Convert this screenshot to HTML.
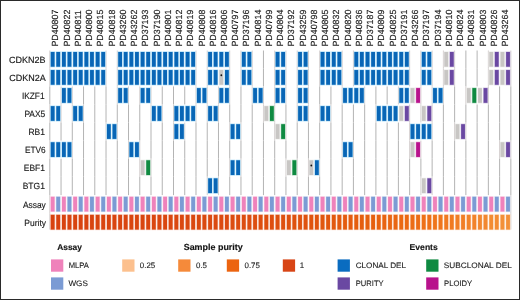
<!DOCTYPE html><html><head><meta charset="utf-8"><style>html,body{margin:0;padding:0;background:#fff;}svg{display:block;filter:blur(0.3px)}text{font-family:"Liberation Sans",sans-serif;text-rendering:geometricPrecision;stroke:#1a1a1a;stroke-width:0.15px;}</style></head><body>
<svg width="520" height="300" viewBox="0 0 520 300">
<rect x="0" y="0" width="520" height="300" fill="#fff"/>
<rect x="49.30" y="50.50" width="1" height="17.88" fill="#d4cfcf"/>
<rect x="49.30" y="68.38" width="1" height="18.05" fill="#d4cfcf"/>
<rect x="49.30" y="86.42" width="1" height="18.05" fill="#b4b4b4"/>
<rect x="49.30" y="104.48" width="1" height="18.05" fill="#d4cfcf"/>
<rect x="49.30" y="122.53" width="1" height="18.05" fill="#b4b4b4"/>
<rect x="49.30" y="140.57" width="1" height="18.05" fill="#d4cfcf"/>
<rect x="49.30" y="158.62" width="1" height="18.05" fill="#b4b4b4"/>
<rect x="49.30" y="176.68" width="1" height="18.45" fill="#b4b4b4"/>
<rect x="49.30" y="195.12" width="1" height="18.05" fill="#d4cfcf"/>
<rect x="49.30" y="213.18" width="1" height="16.38" fill="#d4cfcf"/>
<rect x="60.54" y="86.42" width="1" height="18.05" fill="#d4cfcf"/>
<rect x="60.54" y="104.48" width="1" height="18.05" fill="#d4cfcf"/>
<rect x="60.54" y="122.53" width="1" height="18.05" fill="#b4b4b4"/>
<rect x="60.54" y="158.62" width="1" height="18.05" fill="#b4b4b4"/>
<rect x="60.54" y="176.68" width="1" height="18.45" fill="#b4b4b4"/>
<rect x="71.79" y="86.42" width="1" height="18.05" fill="#d4cfcf"/>
<rect x="71.79" y="104.48" width="1" height="18.05" fill="#d4cfcf"/>
<rect x="71.79" y="122.53" width="1" height="18.05" fill="#b4b4b4"/>
<rect x="71.79" y="140.57" width="1" height="18.05" fill="#d4cfcf"/>
<rect x="71.79" y="158.62" width="1" height="18.05" fill="#b4b4b4"/>
<rect x="71.79" y="176.68" width="1" height="18.45" fill="#b4b4b4"/>
<rect x="83.03" y="86.42" width="1" height="18.05" fill="#b4b4b4"/>
<rect x="83.03" y="104.48" width="1" height="18.05" fill="#d4cfcf"/>
<rect x="83.03" y="122.53" width="1" height="18.05" fill="#b4b4b4"/>
<rect x="83.03" y="140.57" width="1" height="18.05" fill="#b4b4b4"/>
<rect x="83.03" y="158.62" width="1" height="18.05" fill="#b4b4b4"/>
<rect x="83.03" y="176.68" width="1" height="18.45" fill="#b4b4b4"/>
<rect x="94.28" y="86.42" width="1" height="18.05" fill="#b4b4b4"/>
<rect x="94.28" y="104.48" width="1" height="18.05" fill="#b4b4b4"/>
<rect x="94.28" y="122.53" width="1" height="18.05" fill="#b4b4b4"/>
<rect x="94.28" y="140.57" width="1" height="18.05" fill="#b4b4b4"/>
<rect x="94.28" y="158.62" width="1" height="18.05" fill="#b4b4b4"/>
<rect x="94.28" y="176.68" width="1" height="18.45" fill="#b4b4b4"/>
<rect x="105.52" y="50.50" width="1" height="17.88" fill="#d4cfcf"/>
<rect x="105.52" y="68.38" width="1" height="18.05" fill="#d4cfcf"/>
<rect x="105.52" y="86.42" width="1" height="18.05" fill="#b4b4b4"/>
<rect x="105.52" y="104.48" width="1" height="18.05" fill="#b4b4b4"/>
<rect x="105.52" y="122.53" width="1" height="18.05" fill="#d4cfcf"/>
<rect x="105.52" y="140.57" width="1" height="18.05" fill="#b4b4b4"/>
<rect x="105.52" y="158.62" width="1" height="18.05" fill="#b4b4b4"/>
<rect x="105.52" y="176.68" width="1" height="18.45" fill="#b4b4b4"/>
<rect x="116.77" y="50.50" width="1" height="17.88" fill="#d4cfcf"/>
<rect x="116.77" y="68.38" width="1" height="18.05" fill="#d4cfcf"/>
<rect x="116.77" y="86.42" width="1" height="18.05" fill="#d4cfcf"/>
<rect x="116.77" y="104.48" width="1" height="18.05" fill="#b4b4b4"/>
<rect x="116.77" y="122.53" width="1" height="18.05" fill="#d4cfcf"/>
<rect x="116.77" y="140.57" width="1" height="18.05" fill="#b4b4b4"/>
<rect x="116.77" y="158.62" width="1" height="18.05" fill="#b4b4b4"/>
<rect x="116.77" y="176.68" width="1" height="18.45" fill="#b4b4b4"/>
<rect x="128.01" y="86.42" width="1" height="18.05" fill="#d4cfcf"/>
<rect x="128.01" y="104.48" width="1" height="18.05" fill="#b4b4b4"/>
<rect x="128.01" y="122.53" width="1" height="18.05" fill="#b4b4b4"/>
<rect x="128.01" y="140.57" width="1" height="18.05" fill="#d4cfcf"/>
<rect x="128.01" y="158.62" width="1" height="18.05" fill="#b4b4b4"/>
<rect x="128.01" y="176.68" width="1" height="18.45" fill="#b4b4b4"/>
<rect x="139.26" y="86.42" width="1" height="18.05" fill="#d4cfcf"/>
<rect x="139.26" y="104.48" width="1" height="18.05" fill="#b4b4b4"/>
<rect x="139.26" y="122.53" width="1" height="18.05" fill="#b4b4b4"/>
<rect x="139.26" y="140.57" width="1" height="18.05" fill="#d4cfcf"/>
<rect x="139.26" y="158.62" width="1" height="18.05" fill="#d4cfcf"/>
<rect x="139.26" y="176.68" width="1" height="18.45" fill="#b4b4b4"/>
<rect x="150.50" y="86.42" width="1" height="18.05" fill="#d4cfcf"/>
<rect x="150.50" y="104.48" width="1" height="18.05" fill="#d4cfcf"/>
<rect x="150.50" y="122.53" width="1" height="18.05" fill="#b4b4b4"/>
<rect x="150.50" y="140.57" width="1" height="18.05" fill="#b4b4b4"/>
<rect x="150.50" y="158.62" width="1" height="18.05" fill="#d4cfcf"/>
<rect x="150.50" y="176.68" width="1" height="18.45" fill="#b4b4b4"/>
<rect x="161.75" y="86.42" width="1" height="18.05" fill="#b4b4b4"/>
<rect x="161.75" y="104.48" width="1" height="18.05" fill="#d4cfcf"/>
<rect x="161.75" y="122.53" width="1" height="18.05" fill="#b4b4b4"/>
<rect x="161.75" y="140.57" width="1" height="18.05" fill="#b4b4b4"/>
<rect x="161.75" y="158.62" width="1" height="18.05" fill="#b4b4b4"/>
<rect x="161.75" y="176.68" width="1" height="18.45" fill="#b4b4b4"/>
<rect x="173.00" y="86.42" width="1" height="18.05" fill="#b4b4b4"/>
<rect x="173.00" y="104.48" width="1" height="18.05" fill="#d4cfcf"/>
<rect x="173.00" y="122.53" width="1" height="18.05" fill="#d4cfcf"/>
<rect x="173.00" y="140.57" width="1" height="18.05" fill="#b4b4b4"/>
<rect x="173.00" y="158.62" width="1" height="18.05" fill="#b4b4b4"/>
<rect x="173.00" y="176.68" width="1" height="18.45" fill="#b4b4b4"/>
<rect x="184.24" y="86.42" width="1" height="18.05" fill="#b4b4b4"/>
<rect x="184.24" y="122.53" width="1" height="18.05" fill="#d4cfcf"/>
<rect x="184.24" y="140.57" width="1" height="18.05" fill="#b4b4b4"/>
<rect x="184.24" y="158.62" width="1" height="18.05" fill="#b4b4b4"/>
<rect x="184.24" y="176.68" width="1" height="18.45" fill="#b4b4b4"/>
<rect x="195.49" y="50.50" width="1" height="17.88" fill="#d4cfcf"/>
<rect x="195.49" y="68.38" width="1" height="18.05" fill="#d4cfcf"/>
<rect x="195.49" y="86.42" width="1" height="18.05" fill="#d4cfcf"/>
<rect x="195.49" y="104.48" width="1" height="18.05" fill="#d4cfcf"/>
<rect x="195.49" y="122.53" width="1" height="18.05" fill="#b4b4b4"/>
<rect x="195.49" y="140.57" width="1" height="18.05" fill="#b4b4b4"/>
<rect x="195.49" y="158.62" width="1" height="18.05" fill="#b4b4b4"/>
<rect x="195.49" y="176.68" width="1" height="18.45" fill="#b4b4b4"/>
<rect x="206.73" y="50.50" width="1" height="17.88" fill="#d4cfcf"/>
<rect x="206.73" y="68.38" width="1" height="18.05" fill="#d4cfcf"/>
<rect x="206.73" y="86.42" width="1" height="18.05" fill="#d4cfcf"/>
<rect x="206.73" y="104.48" width="1" height="18.05" fill="#d4cfcf"/>
<rect x="206.73" y="122.53" width="1" height="18.05" fill="#b4b4b4"/>
<rect x="206.73" y="140.57" width="1" height="18.05" fill="#b4b4b4"/>
<rect x="206.73" y="158.62" width="1" height="18.05" fill="#b4b4b4"/>
<rect x="206.73" y="176.68" width="1" height="18.45" fill="#d4cfcf"/>
<rect x="217.97" y="86.42" width="1" height="18.05" fill="#d4cfcf"/>
<rect x="217.97" y="104.48" width="1" height="18.05" fill="#d4cfcf"/>
<rect x="217.97" y="122.53" width="1" height="18.05" fill="#b4b4b4"/>
<rect x="217.97" y="140.57" width="1" height="18.05" fill="#b4b4b4"/>
<rect x="217.97" y="158.62" width="1" height="18.05" fill="#b4b4b4"/>
<rect x="217.97" y="176.68" width="1" height="18.45" fill="#d4cfcf"/>
<rect x="229.22" y="50.50" width="1" height="17.88" fill="#d4cfcf"/>
<rect x="229.22" y="68.38" width="1" height="18.05" fill="#d4cfcf"/>
<rect x="229.22" y="86.42" width="1" height="18.05" fill="#d4cfcf"/>
<rect x="229.22" y="104.48" width="1" height="18.05" fill="#b4b4b4"/>
<rect x="229.22" y="122.53" width="1" height="18.05" fill="#d4cfcf"/>
<rect x="229.22" y="140.57" width="1" height="18.05" fill="#b4b4b4"/>
<rect x="229.22" y="158.62" width="1" height="18.05" fill="#d4cfcf"/>
<rect x="229.22" y="176.68" width="1" height="18.45" fill="#b4b4b4"/>
<rect x="240.46" y="50.50" width="1" height="17.88" fill="#d4cfcf"/>
<rect x="240.46" y="68.38" width="1" height="18.05" fill="#d4cfcf"/>
<rect x="240.46" y="86.42" width="1" height="18.05" fill="#b4b4b4"/>
<rect x="240.46" y="104.48" width="1" height="18.05" fill="#b4b4b4"/>
<rect x="240.46" y="122.53" width="1" height="18.05" fill="#d4cfcf"/>
<rect x="240.46" y="140.57" width="1" height="18.05" fill="#b4b4b4"/>
<rect x="240.46" y="158.62" width="1" height="18.05" fill="#d4cfcf"/>
<rect x="240.46" y="176.68" width="1" height="18.45" fill="#b4b4b4"/>
<rect x="251.71" y="50.50" width="1" height="17.88" fill="#d4cfcf"/>
<rect x="251.71" y="68.38" width="1" height="18.05" fill="#d4cfcf"/>
<rect x="251.71" y="86.42" width="1" height="18.05" fill="#d4cfcf"/>
<rect x="251.71" y="104.48" width="1" height="18.05" fill="#b4b4b4"/>
<rect x="251.71" y="122.53" width="1" height="18.05" fill="#b4b4b4"/>
<rect x="251.71" y="140.57" width="1" height="18.05" fill="#b4b4b4"/>
<rect x="251.71" y="158.62" width="1" height="18.05" fill="#b4b4b4"/>
<rect x="251.71" y="176.68" width="1" height="18.45" fill="#b4b4b4"/>
<rect x="262.95" y="50.50" width="1" height="17.88" fill="#b4b4b4"/>
<rect x="262.95" y="68.38" width="1" height="18.05" fill="#b4b4b4"/>
<rect x="262.95" y="86.42" width="1" height="18.05" fill="#d4cfcf"/>
<rect x="262.95" y="104.48" width="1" height="18.05" fill="#d4cfcf"/>
<rect x="262.95" y="122.53" width="1" height="18.05" fill="#b4b4b4"/>
<rect x="262.95" y="140.57" width="1" height="18.05" fill="#b4b4b4"/>
<rect x="262.95" y="158.62" width="1" height="18.05" fill="#b4b4b4"/>
<rect x="262.95" y="176.68" width="1" height="18.45" fill="#b4b4b4"/>
<rect x="274.20" y="50.50" width="1" height="17.88" fill="#d4cfcf"/>
<rect x="274.20" y="68.38" width="1" height="18.05" fill="#d4cfcf"/>
<rect x="274.20" y="86.42" width="1" height="18.05" fill="#d4cfcf"/>
<rect x="274.20" y="104.48" width="1" height="18.05" fill="#d4cfcf"/>
<rect x="274.20" y="122.53" width="1" height="18.05" fill="#d4cfcf"/>
<rect x="274.20" y="140.57" width="1" height="18.05" fill="#b4b4b4"/>
<rect x="274.20" y="158.62" width="1" height="18.05" fill="#b4b4b4"/>
<rect x="274.20" y="176.68" width="1" height="18.45" fill="#b4b4b4"/>
<rect x="285.44" y="50.50" width="1" height="17.88" fill="#d4cfcf"/>
<rect x="285.44" y="68.38" width="1" height="18.05" fill="#d4cfcf"/>
<rect x="285.44" y="86.42" width="1" height="18.05" fill="#d4cfcf"/>
<rect x="285.44" y="104.48" width="1" height="18.05" fill="#b4b4b4"/>
<rect x="285.44" y="122.53" width="1" height="18.05" fill="#d4cfcf"/>
<rect x="285.44" y="140.57" width="1" height="18.05" fill="#b4b4b4"/>
<rect x="285.44" y="158.62" width="1" height="18.05" fill="#d4cfcf"/>
<rect x="285.44" y="176.68" width="1" height="18.45" fill="#b4b4b4"/>
<rect x="296.69" y="50.50" width="1" height="17.88" fill="#d4cfcf"/>
<rect x="296.69" y="68.38" width="1" height="18.05" fill="#d4cfcf"/>
<rect x="296.69" y="86.42" width="1" height="18.05" fill="#d4cfcf"/>
<rect x="296.69" y="104.48" width="1" height="18.05" fill="#d4cfcf"/>
<rect x="296.69" y="122.53" width="1" height="18.05" fill="#b4b4b4"/>
<rect x="296.69" y="140.57" width="1" height="18.05" fill="#b4b4b4"/>
<rect x="296.69" y="158.62" width="1" height="18.05" fill="#d4cfcf"/>
<rect x="296.69" y="176.68" width="1" height="18.45" fill="#b4b4b4"/>
<rect x="307.94" y="50.50" width="1" height="17.88" fill="#d4cfcf"/>
<rect x="307.94" y="68.38" width="1" height="18.05" fill="#d4cfcf"/>
<rect x="307.94" y="86.42" width="1" height="18.05" fill="#d4cfcf"/>
<rect x="307.94" y="104.48" width="1" height="18.05" fill="#d4cfcf"/>
<rect x="307.94" y="122.53" width="1" height="18.05" fill="#b4b4b4"/>
<rect x="307.94" y="140.57" width="1" height="18.05" fill="#b4b4b4"/>
<rect x="307.94" y="158.62" width="1" height="18.05" fill="#d4cfcf"/>
<rect x="307.94" y="176.68" width="1" height="18.45" fill="#b4b4b4"/>
<rect x="319.18" y="50.50" width="1" height="17.88" fill="#d4cfcf"/>
<rect x="319.18" y="68.38" width="1" height="18.05" fill="#d4cfcf"/>
<rect x="319.18" y="86.42" width="1" height="18.05" fill="#b4b4b4"/>
<rect x="319.18" y="104.48" width="1" height="18.05" fill="#d4cfcf"/>
<rect x="319.18" y="122.53" width="1" height="18.05" fill="#b4b4b4"/>
<rect x="319.18" y="140.57" width="1" height="18.05" fill="#b4b4b4"/>
<rect x="319.18" y="158.62" width="1" height="18.05" fill="#d4cfcf"/>
<rect x="319.18" y="176.68" width="1" height="18.45" fill="#b4b4b4"/>
<rect x="330.43" y="86.42" width="1" height="18.05" fill="#b4b4b4"/>
<rect x="330.43" y="104.48" width="1" height="18.05" fill="#d4cfcf"/>
<rect x="330.43" y="122.53" width="1" height="18.05" fill="#b4b4b4"/>
<rect x="330.43" y="140.57" width="1" height="18.05" fill="#b4b4b4"/>
<rect x="330.43" y="158.62" width="1" height="18.05" fill="#b4b4b4"/>
<rect x="330.43" y="176.68" width="1" height="18.45" fill="#b4b4b4"/>
<rect x="341.67" y="50.50" width="1" height="17.88" fill="#d4cfcf"/>
<rect x="341.67" y="68.38" width="1" height="18.05" fill="#d4cfcf"/>
<rect x="341.67" y="86.42" width="1" height="18.05" fill="#d4cfcf"/>
<rect x="341.67" y="104.48" width="1" height="18.05" fill="#b4b4b4"/>
<rect x="341.67" y="122.53" width="1" height="18.05" fill="#b4b4b4"/>
<rect x="341.67" y="140.57" width="1" height="18.05" fill="#d4cfcf"/>
<rect x="341.67" y="158.62" width="1" height="18.05" fill="#b4b4b4"/>
<rect x="341.67" y="176.68" width="1" height="18.45" fill="#b4b4b4"/>
<rect x="352.91" y="50.50" width="1" height="17.88" fill="#d4cfcf"/>
<rect x="352.91" y="68.38" width="1" height="18.05" fill="#d4cfcf"/>
<rect x="352.91" y="104.48" width="1" height="18.05" fill="#b4b4b4"/>
<rect x="352.91" y="122.53" width="1" height="18.05" fill="#b4b4b4"/>
<rect x="352.91" y="140.57" width="1" height="18.05" fill="#d4cfcf"/>
<rect x="352.91" y="158.62" width="1" height="18.05" fill="#b4b4b4"/>
<rect x="352.91" y="176.68" width="1" height="18.45" fill="#b4b4b4"/>
<rect x="364.16" y="86.42" width="1" height="18.05" fill="#d4cfcf"/>
<rect x="364.16" y="104.48" width="1" height="18.05" fill="#b4b4b4"/>
<rect x="364.16" y="122.53" width="1" height="18.05" fill="#b4b4b4"/>
<rect x="364.16" y="140.57" width="1" height="18.05" fill="#b4b4b4"/>
<rect x="364.16" y="158.62" width="1" height="18.05" fill="#b4b4b4"/>
<rect x="364.16" y="176.68" width="1" height="18.45" fill="#b4b4b4"/>
<rect x="375.40" y="86.42" width="1" height="18.05" fill="#b4b4b4"/>
<rect x="375.40" y="104.48" width="1" height="18.05" fill="#d4cfcf"/>
<rect x="375.40" y="122.53" width="1" height="18.05" fill="#b4b4b4"/>
<rect x="375.40" y="140.57" width="1" height="18.05" fill="#b4b4b4"/>
<rect x="375.40" y="158.62" width="1" height="18.05" fill="#b4b4b4"/>
<rect x="375.40" y="176.68" width="1" height="18.45" fill="#b4b4b4"/>
<rect x="386.65" y="86.42" width="1" height="18.05" fill="#b4b4b4"/>
<rect x="386.65" y="122.53" width="1" height="18.05" fill="#b4b4b4"/>
<rect x="386.65" y="140.57" width="1" height="18.05" fill="#b4b4b4"/>
<rect x="386.65" y="158.62" width="1" height="18.05" fill="#b4b4b4"/>
<rect x="386.65" y="176.68" width="1" height="18.45" fill="#b4b4b4"/>
<rect x="397.89" y="86.42" width="1" height="18.05" fill="#d4cfcf"/>
<rect x="397.89" y="122.53" width="1" height="18.05" fill="#b4b4b4"/>
<rect x="397.89" y="140.57" width="1" height="18.05" fill="#b4b4b4"/>
<rect x="397.89" y="158.62" width="1" height="18.05" fill="#b4b4b4"/>
<rect x="397.89" y="176.68" width="1" height="18.45" fill="#b4b4b4"/>
<rect x="409.14" y="50.50" width="1" height="17.88" fill="#d4cfcf"/>
<rect x="409.14" y="68.38" width="1" height="18.05" fill="#d4cfcf"/>
<rect x="409.14" y="104.48" width="1" height="18.05" fill="#d4cfcf"/>
<rect x="409.14" y="122.53" width="1" height="18.05" fill="#d4cfcf"/>
<rect x="409.14" y="140.57" width="1" height="18.05" fill="#d4cfcf"/>
<rect x="409.14" y="158.62" width="1" height="18.05" fill="#b4b4b4"/>
<rect x="409.14" y="176.68" width="1" height="18.45" fill="#b4b4b4"/>
<rect x="420.38" y="50.50" width="1" height="17.88" fill="#d4cfcf"/>
<rect x="420.38" y="68.38" width="1" height="18.05" fill="#d4cfcf"/>
<rect x="420.38" y="86.42" width="1" height="18.05" fill="#d4cfcf"/>
<rect x="420.38" y="104.48" width="1" height="18.05" fill="#d4cfcf"/>
<rect x="420.38" y="140.57" width="1" height="18.05" fill="#d4cfcf"/>
<rect x="420.38" y="158.62" width="1" height="18.05" fill="#b4b4b4"/>
<rect x="420.38" y="176.68" width="1" height="18.45" fill="#d4cfcf"/>
<rect x="431.63" y="50.50" width="1" height="17.88" fill="#d4cfcf"/>
<rect x="431.63" y="68.38" width="1" height="18.05" fill="#d4cfcf"/>
<rect x="431.63" y="86.42" width="1" height="18.05" fill="#d4cfcf"/>
<rect x="431.63" y="104.48" width="1" height="18.05" fill="#d4cfcf"/>
<rect x="431.63" y="122.53" width="1" height="18.05" fill="#d4cfcf"/>
<rect x="431.63" y="140.57" width="1" height="18.05" fill="#b4b4b4"/>
<rect x="431.63" y="158.62" width="1" height="18.05" fill="#b4b4b4"/>
<rect x="431.63" y="176.68" width="1" height="18.45" fill="#d4cfcf"/>
<rect x="442.88" y="50.50" width="1" height="17.88" fill="#d4cfcf"/>
<rect x="442.88" y="68.38" width="1" height="18.05" fill="#d4cfcf"/>
<rect x="442.88" y="86.42" width="1" height="18.05" fill="#d4cfcf"/>
<rect x="442.88" y="104.48" width="1" height="18.05" fill="#b4b4b4"/>
<rect x="442.88" y="122.53" width="1" height="18.05" fill="#b4b4b4"/>
<rect x="442.88" y="140.57" width="1" height="18.05" fill="#b4b4b4"/>
<rect x="442.88" y="158.62" width="1" height="18.05" fill="#b4b4b4"/>
<rect x="442.88" y="176.68" width="1" height="18.45" fill="#b4b4b4"/>
<rect x="454.12" y="50.50" width="1" height="17.88" fill="#d4cfcf"/>
<rect x="454.12" y="68.38" width="1" height="18.05" fill="#d4cfcf"/>
<rect x="454.12" y="86.42" width="1" height="18.05" fill="#b4b4b4"/>
<rect x="454.12" y="104.48" width="1" height="18.05" fill="#b4b4b4"/>
<rect x="454.12" y="122.53" width="1" height="18.05" fill="#d4cfcf"/>
<rect x="454.12" y="140.57" width="1" height="18.05" fill="#b4b4b4"/>
<rect x="454.12" y="158.62" width="1" height="18.05" fill="#b4b4b4"/>
<rect x="454.12" y="176.68" width="1" height="18.45" fill="#b4b4b4"/>
<rect x="465.37" y="50.50" width="1" height="17.88" fill="#b4b4b4"/>
<rect x="465.37" y="68.38" width="1" height="18.05" fill="#b4b4b4"/>
<rect x="465.37" y="86.42" width="1" height="18.05" fill="#d4cfcf"/>
<rect x="465.37" y="104.48" width="1" height="18.05" fill="#b4b4b4"/>
<rect x="465.37" y="122.53" width="1" height="18.05" fill="#d4cfcf"/>
<rect x="465.37" y="140.57" width="1" height="18.05" fill="#b4b4b4"/>
<rect x="465.37" y="158.62" width="1" height="18.05" fill="#b4b4b4"/>
<rect x="465.37" y="176.68" width="1" height="18.45" fill="#b4b4b4"/>
<rect x="476.61" y="50.50" width="1" height="17.88" fill="#b4b4b4"/>
<rect x="476.61" y="68.38" width="1" height="18.05" fill="#b4b4b4"/>
<rect x="476.61" y="104.48" width="1" height="18.05" fill="#b4b4b4"/>
<rect x="476.61" y="122.53" width="1" height="18.05" fill="#b4b4b4"/>
<rect x="476.61" y="140.57" width="1" height="18.05" fill="#b4b4b4"/>
<rect x="476.61" y="158.62" width="1" height="18.05" fill="#b4b4b4"/>
<rect x="476.61" y="176.68" width="1" height="18.45" fill="#b4b4b4"/>
<rect x="487.85" y="50.50" width="1" height="17.88" fill="#d4cfcf"/>
<rect x="487.85" y="68.38" width="1" height="18.05" fill="#d4cfcf"/>
<rect x="487.85" y="86.42" width="1" height="18.05" fill="#d4cfcf"/>
<rect x="487.85" y="104.48" width="1" height="18.05" fill="#b4b4b4"/>
<rect x="487.85" y="122.53" width="1" height="18.05" fill="#b4b4b4"/>
<rect x="487.85" y="140.57" width="1" height="18.05" fill="#b4b4b4"/>
<rect x="487.85" y="158.62" width="1" height="18.05" fill="#b4b4b4"/>
<rect x="487.85" y="176.68" width="1" height="18.45" fill="#b4b4b4"/>
<rect x="499.10" y="86.42" width="1" height="18.05" fill="#b4b4b4"/>
<rect x="499.10" y="104.48" width="1" height="18.05" fill="#b4b4b4"/>
<rect x="499.10" y="122.53" width="1" height="18.05" fill="#b4b4b4"/>
<rect x="499.10" y="140.57" width="1" height="18.05" fill="#d4cfcf"/>
<rect x="499.10" y="158.62" width="1" height="18.05" fill="#b4b4b4"/>
<rect x="499.10" y="176.68" width="1" height="18.45" fill="#b4b4b4"/>
<rect x="510.34" y="50.50" width="1" height="17.88" fill="#d4cfcf"/>
<rect x="510.34" y="68.38" width="1" height="18.05" fill="#d4cfcf"/>
<rect x="510.34" y="86.42" width="1" height="18.05" fill="#b4b4b4"/>
<rect x="510.34" y="104.48" width="1" height="18.05" fill="#b4b4b4"/>
<rect x="510.34" y="122.53" width="1" height="18.05" fill="#b4b4b4"/>
<rect x="510.34" y="140.57" width="1" height="18.05" fill="#d4cfcf"/>
<rect x="510.34" y="158.62" width="1" height="18.05" fill="#b4b4b4"/>
<rect x="510.34" y="176.68" width="1" height="18.45" fill="#b4b4b4"/>
<rect x="510.34" y="195.12" width="1" height="18.05" fill="#d4cfcf"/>
<rect x="510.34" y="213.18" width="1" height="16.38" fill="#d4cfcf"/>
<rect x="50.20" y="51.40" width="4.90" height="15.90" fill="#a8dbf6"/>
<rect x="50.75" y="52.00" width="3.8" height="14.7" fill="#0966b6"/>
<rect x="55.77" y="51.40" width="4.90" height="15.90" fill="#a8dbf6"/>
<rect x="56.32" y="52.00" width="3.8" height="14.7" fill="#0966b6"/>
<rect x="61.45" y="51.40" width="4.90" height="15.90" fill="#a8dbf6"/>
<rect x="61.99" y="52.00" width="3.8" height="14.7" fill="#0966b6"/>
<rect x="67.01" y="51.40" width="4.90" height="15.90" fill="#a8dbf6"/>
<rect x="67.56" y="52.00" width="3.8" height="14.7" fill="#0966b6"/>
<rect x="72.69" y="51.40" width="4.90" height="15.90" fill="#a8dbf6"/>
<rect x="73.24" y="52.00" width="3.8" height="14.7" fill="#0966b6"/>
<rect x="78.26" y="51.40" width="4.90" height="15.90" fill="#a8dbf6"/>
<rect x="78.81" y="52.00" width="3.8" height="14.7" fill="#0966b6"/>
<rect x="83.93" y="51.40" width="4.90" height="15.90" fill="#a8dbf6"/>
<rect x="84.48" y="52.00" width="3.8" height="14.7" fill="#0966b6"/>
<rect x="89.50" y="51.40" width="4.90" height="15.90" fill="#a8dbf6"/>
<rect x="90.05" y="52.00" width="3.8" height="14.7" fill="#0966b6"/>
<rect x="95.18" y="51.40" width="4.90" height="15.90" fill="#a8dbf6"/>
<rect x="95.73" y="52.00" width="3.8" height="14.7" fill="#0966b6"/>
<rect x="100.75" y="51.40" width="4.90" height="15.90" fill="#a8dbf6"/>
<rect x="101.30" y="52.00" width="3.8" height="14.7" fill="#0966b6"/>
<rect x="117.67" y="51.40" width="4.90" height="15.90" fill="#a8dbf6"/>
<rect x="118.22" y="52.00" width="3.8" height="14.7" fill="#0966b6"/>
<rect x="123.24" y="51.40" width="4.90" height="15.90" fill="#a8dbf6"/>
<rect x="123.79" y="52.00" width="3.8" height="14.7" fill="#0966b6"/>
<rect x="128.91" y="51.40" width="4.90" height="15.90" fill="#a8dbf6"/>
<rect x="129.46" y="52.00" width="3.8" height="14.7" fill="#0966b6"/>
<rect x="134.48" y="51.40" width="4.90" height="15.90" fill="#a8dbf6"/>
<rect x="135.03" y="52.00" width="3.8" height="14.7" fill="#0966b6"/>
<rect x="140.16" y="51.40" width="4.90" height="15.90" fill="#a8dbf6"/>
<rect x="140.71" y="52.00" width="3.8" height="14.7" fill="#0966b6"/>
<rect x="145.73" y="51.40" width="4.90" height="15.90" fill="#a8dbf6"/>
<rect x="146.28" y="52.00" width="3.8" height="14.7" fill="#0966b6"/>
<rect x="151.40" y="51.40" width="4.90" height="15.90" fill="#a8dbf6"/>
<rect x="151.95" y="52.00" width="3.8" height="14.7" fill="#0966b6"/>
<rect x="156.97" y="51.40" width="4.90" height="15.90" fill="#a8dbf6"/>
<rect x="157.52" y="52.00" width="3.8" height="14.7" fill="#0966b6"/>
<rect x="162.65" y="51.40" width="4.90" height="15.90" fill="#a8dbf6"/>
<rect x="163.20" y="52.00" width="3.8" height="14.7" fill="#0966b6"/>
<rect x="168.22" y="51.40" width="4.90" height="15.90" fill="#a8dbf6"/>
<rect x="168.77" y="52.00" width="3.8" height="14.7" fill="#0966b6"/>
<rect x="173.89" y="51.40" width="4.90" height="15.90" fill="#a8dbf6"/>
<rect x="174.44" y="52.00" width="3.8" height="14.7" fill="#0966b6"/>
<rect x="179.46" y="51.40" width="4.90" height="15.90" fill="#a8dbf6"/>
<rect x="180.01" y="52.00" width="3.8" height="14.7" fill="#0966b6"/>
<rect x="185.14" y="51.40" width="4.90" height="15.90" fill="#a8dbf6"/>
<rect x="185.69" y="52.00" width="3.8" height="14.7" fill="#0966b6"/>
<rect x="190.71" y="51.40" width="4.90" height="15.90" fill="#a8dbf6"/>
<rect x="191.26" y="52.00" width="3.8" height="14.7" fill="#0966b6"/>
<rect x="207.63" y="51.40" width="4.90" height="15.90" fill="#a8dbf6"/>
<rect x="208.18" y="52.00" width="3.8" height="14.7" fill="#0966b6"/>
<rect x="213.20" y="51.40" width="4.90" height="15.90" fill="#a8dbf6"/>
<rect x="213.75" y="52.00" width="3.8" height="14.7" fill="#0966b6"/>
<rect x="218.87" y="51.40" width="4.90" height="15.90" fill="#a8dbf6"/>
<rect x="219.42" y="52.00" width="3.8" height="14.7" fill="#0966b6"/>
<rect x="224.44" y="51.40" width="4.90" height="15.90" fill="#a8dbf6"/>
<rect x="224.99" y="52.00" width="3.8" height="14.7" fill="#0966b6"/>
<rect x="241.36" y="51.40" width="4.90" height="15.90" fill="#a8dbf6"/>
<rect x="241.91" y="52.00" width="3.8" height="14.7" fill="#0966b6"/>
<rect x="246.93" y="51.40" width="4.90" height="15.90" fill="#a8dbf6"/>
<rect x="247.48" y="52.00" width="3.8" height="14.7" fill="#0966b6"/>
<rect x="275.10" y="51.40" width="4.90" height="15.90" fill="#a8dbf6"/>
<rect x="275.65" y="52.00" width="3.8" height="14.7" fill="#0966b6"/>
<rect x="280.67" y="51.40" width="4.90" height="15.90" fill="#a8dbf6"/>
<rect x="281.22" y="52.00" width="3.8" height="14.7" fill="#0966b6"/>
<rect x="297.59" y="51.40" width="4.90" height="15.90" fill="#a8dbf6"/>
<rect x="298.14" y="52.00" width="3.8" height="14.7" fill="#0966b6"/>
<rect x="303.16" y="51.40" width="4.90" height="15.90" fill="#a8dbf6"/>
<rect x="303.71" y="52.00" width="3.8" height="14.7" fill="#0966b6"/>
<rect x="320.08" y="51.40" width="4.90" height="15.90" fill="#a8dbf6"/>
<rect x="320.63" y="52.00" width="3.8" height="14.7" fill="#0966b6"/>
<rect x="325.65" y="51.40" width="4.90" height="15.90" fill="#a8dbf6"/>
<rect x="326.20" y="52.00" width="3.8" height="14.7" fill="#0966b6"/>
<rect x="331.33" y="51.40" width="4.90" height="15.90" fill="#a8dbf6"/>
<rect x="331.88" y="52.00" width="3.8" height="14.7" fill="#0966b6"/>
<rect x="336.90" y="51.40" width="4.90" height="15.90" fill="#a8dbf6"/>
<rect x="337.45" y="52.00" width="3.8" height="14.7" fill="#0966b6"/>
<rect x="353.81" y="51.40" width="4.90" height="15.90" fill="#a8dbf6"/>
<rect x="354.37" y="52.00" width="3.8" height="14.7" fill="#0966b6"/>
<rect x="359.38" y="51.40" width="4.90" height="15.90" fill="#a8dbf6"/>
<rect x="359.94" y="52.00" width="3.8" height="14.7" fill="#0966b6"/>
<rect x="365.06" y="51.40" width="4.90" height="15.90" fill="#a8dbf6"/>
<rect x="365.61" y="52.00" width="3.8" height="14.7" fill="#0966b6"/>
<rect x="370.63" y="51.40" width="4.90" height="15.90" fill="#a8dbf6"/>
<rect x="371.18" y="52.00" width="3.8" height="14.7" fill="#0966b6"/>
<rect x="376.31" y="51.40" width="4.90" height="15.90" fill="#a8dbf6"/>
<rect x="376.86" y="52.00" width="3.8" height="14.7" fill="#0966b6"/>
<rect x="381.88" y="51.40" width="4.90" height="15.90" fill="#a8dbf6"/>
<rect x="382.43" y="52.00" width="3.8" height="14.7" fill="#0966b6"/>
<rect x="387.55" y="51.40" width="4.90" height="15.90" fill="#a8dbf6"/>
<rect x="388.10" y="52.00" width="3.8" height="14.7" fill="#0966b6"/>
<rect x="393.12" y="51.40" width="4.90" height="15.90" fill="#a8dbf6"/>
<rect x="393.67" y="52.00" width="3.8" height="14.7" fill="#0966b6"/>
<rect x="398.80" y="51.40" width="4.90" height="15.90" fill="#a8dbf6"/>
<rect x="399.35" y="52.00" width="3.8" height="14.7" fill="#0966b6"/>
<rect x="404.37" y="51.40" width="4.90" height="15.90" fill="#a8dbf6"/>
<rect x="404.92" y="52.00" width="3.8" height="14.7" fill="#0966b6"/>
<rect x="421.29" y="51.40" width="4.90" height="15.90" fill="#a8dbf6"/>
<rect x="421.84" y="52.00" width="3.8" height="14.7" fill="#0966b6"/>
<rect x="426.86" y="51.40" width="4.90" height="15.90" fill="#a8dbf6"/>
<rect x="427.41" y="52.00" width="3.8" height="14.7" fill="#0966b6"/>
<rect x="443.78" y="51.40" width="4.90" height="15.90" fill="#ededec"/>
<rect x="444.33" y="52.00" width="3.8" height="14.7" fill="#c8c6c4"/>
<rect x="449.35" y="51.40" width="4.90" height="15.90" fill="#cfc4e1"/>
<rect x="449.90" y="52.00" width="3.8" height="14.7" fill="#6a48a2"/>
<rect x="488.75" y="51.40" width="4.90" height="15.90" fill="#ededec"/>
<rect x="489.31" y="52.00" width="3.8" height="14.7" fill="#c8c6c4"/>
<rect x="494.32" y="51.40" width="4.90" height="15.90" fill="#cfc4e1"/>
<rect x="494.88" y="52.00" width="3.8" height="14.7" fill="#6a48a2"/>
<rect x="500.00" y="51.40" width="4.90" height="15.90" fill="#ededec"/>
<rect x="500.55" y="52.00" width="3.8" height="14.7" fill="#c8c6c4"/>
<rect x="505.57" y="51.40" width="4.90" height="15.90" fill="#cfc4e1"/>
<rect x="506.12" y="52.00" width="3.8" height="14.7" fill="#6a48a2"/>
<rect x="50.20" y="69.45" width="4.90" height="15.90" fill="#a8dbf6"/>
<rect x="50.75" y="70.05" width="3.8" height="14.7" fill="#0966b6"/>
<rect x="55.77" y="69.45" width="4.90" height="15.90" fill="#a8dbf6"/>
<rect x="56.32" y="70.05" width="3.8" height="14.7" fill="#0966b6"/>
<rect x="61.45" y="69.45" width="4.90" height="15.90" fill="#a8dbf6"/>
<rect x="61.99" y="70.05" width="3.8" height="14.7" fill="#0966b6"/>
<rect x="67.01" y="69.45" width="4.90" height="15.90" fill="#a8dbf6"/>
<rect x="67.56" y="70.05" width="3.8" height="14.7" fill="#0966b6"/>
<rect x="72.69" y="69.45" width="4.90" height="15.90" fill="#a8dbf6"/>
<rect x="73.24" y="70.05" width="3.8" height="14.7" fill="#0966b6"/>
<rect x="78.26" y="69.45" width="4.90" height="15.90" fill="#a8dbf6"/>
<rect x="78.81" y="70.05" width="3.8" height="14.7" fill="#0966b6"/>
<rect x="83.93" y="69.45" width="4.90" height="15.90" fill="#a8dbf6"/>
<rect x="84.48" y="70.05" width="3.8" height="14.7" fill="#0966b6"/>
<rect x="89.50" y="69.45" width="4.90" height="15.90" fill="#a8dbf6"/>
<rect x="90.05" y="70.05" width="3.8" height="14.7" fill="#0966b6"/>
<rect x="95.18" y="69.45" width="4.90" height="15.90" fill="#a8dbf6"/>
<rect x="95.73" y="70.05" width="3.8" height="14.7" fill="#0966b6"/>
<rect x="100.75" y="69.45" width="4.90" height="15.90" fill="#a8dbf6"/>
<rect x="101.30" y="70.05" width="3.8" height="14.7" fill="#0966b6"/>
<rect x="117.67" y="69.45" width="4.90" height="15.90" fill="#a8dbf6"/>
<rect x="118.22" y="70.05" width="3.8" height="14.7" fill="#0966b6"/>
<rect x="123.24" y="69.45" width="4.90" height="15.90" fill="#a8dbf6"/>
<rect x="123.79" y="70.05" width="3.8" height="14.7" fill="#0966b6"/>
<rect x="128.91" y="69.45" width="4.90" height="15.90" fill="#a8dbf6"/>
<rect x="129.46" y="70.05" width="3.8" height="14.7" fill="#0966b6"/>
<rect x="134.48" y="69.45" width="4.90" height="15.90" fill="#a8dbf6"/>
<rect x="135.03" y="70.05" width="3.8" height="14.7" fill="#0966b6"/>
<rect x="140.16" y="69.45" width="4.90" height="15.90" fill="#a8dbf6"/>
<rect x="140.71" y="70.05" width="3.8" height="14.7" fill="#0966b6"/>
<rect x="145.73" y="69.45" width="4.90" height="15.90" fill="#a8dbf6"/>
<rect x="146.28" y="70.05" width="3.8" height="14.7" fill="#0966b6"/>
<rect x="151.40" y="69.45" width="4.90" height="15.90" fill="#a8dbf6"/>
<rect x="151.95" y="70.05" width="3.8" height="14.7" fill="#0966b6"/>
<rect x="156.97" y="69.45" width="4.90" height="15.90" fill="#a8dbf6"/>
<rect x="157.52" y="70.05" width="3.8" height="14.7" fill="#0966b6"/>
<rect x="162.65" y="69.45" width="4.90" height="15.90" fill="#a8dbf6"/>
<rect x="163.20" y="70.05" width="3.8" height="14.7" fill="#0966b6"/>
<rect x="168.22" y="69.45" width="4.90" height="15.90" fill="#a8dbf6"/>
<rect x="168.77" y="70.05" width="3.8" height="14.7" fill="#0966b6"/>
<rect x="173.89" y="69.45" width="4.90" height="15.90" fill="#a8dbf6"/>
<rect x="174.44" y="70.05" width="3.8" height="14.7" fill="#0966b6"/>
<rect x="179.46" y="69.45" width="4.90" height="15.90" fill="#a8dbf6"/>
<rect x="180.01" y="70.05" width="3.8" height="14.7" fill="#0966b6"/>
<rect x="185.14" y="69.45" width="4.90" height="15.90" fill="#a8dbf6"/>
<rect x="185.69" y="70.05" width="3.8" height="14.7" fill="#0966b6"/>
<rect x="190.71" y="69.45" width="4.90" height="15.90" fill="#a8dbf6"/>
<rect x="191.26" y="70.05" width="3.8" height="14.7" fill="#0966b6"/>
<rect x="207.63" y="69.45" width="4.90" height="15.90" fill="#a8dbf6"/>
<rect x="208.18" y="70.05" width="3.8" height="14.7" fill="#0966b6"/>
<rect x="213.20" y="69.45" width="4.90" height="15.90" fill="#a8dbf6"/>
<rect x="213.75" y="70.05" width="3.8" height="14.7" fill="#0966b6"/>
<rect x="241.36" y="69.45" width="4.90" height="15.90" fill="#a8dbf6"/>
<rect x="241.91" y="70.05" width="3.8" height="14.7" fill="#0966b6"/>
<rect x="246.93" y="69.45" width="4.90" height="15.90" fill="#a8dbf6"/>
<rect x="247.48" y="70.05" width="3.8" height="14.7" fill="#0966b6"/>
<rect x="275.10" y="69.45" width="4.90" height="15.90" fill="#a8dbf6"/>
<rect x="275.65" y="70.05" width="3.8" height="14.7" fill="#0966b6"/>
<rect x="280.67" y="69.45" width="4.90" height="15.90" fill="#a8dbf6"/>
<rect x="281.22" y="70.05" width="3.8" height="14.7" fill="#0966b6"/>
<rect x="297.59" y="69.45" width="4.90" height="15.90" fill="#a8dbf6"/>
<rect x="298.14" y="70.05" width="3.8" height="14.7" fill="#0966b6"/>
<rect x="303.16" y="69.45" width="4.90" height="15.90" fill="#a8dbf6"/>
<rect x="303.71" y="70.05" width="3.8" height="14.7" fill="#0966b6"/>
<rect x="320.08" y="69.45" width="4.90" height="15.90" fill="#a8dbf6"/>
<rect x="320.63" y="70.05" width="3.8" height="14.7" fill="#0966b6"/>
<rect x="325.65" y="69.45" width="4.90" height="15.90" fill="#a8dbf6"/>
<rect x="326.20" y="70.05" width="3.8" height="14.7" fill="#0966b6"/>
<rect x="331.33" y="69.45" width="4.90" height="15.90" fill="#a8dbf6"/>
<rect x="331.88" y="70.05" width="3.8" height="14.7" fill="#0966b6"/>
<rect x="336.90" y="69.45" width="4.90" height="15.90" fill="#a8dbf6"/>
<rect x="337.45" y="70.05" width="3.8" height="14.7" fill="#0966b6"/>
<rect x="353.81" y="69.45" width="4.90" height="15.90" fill="#a8dbf6"/>
<rect x="354.37" y="70.05" width="3.8" height="14.7" fill="#0966b6"/>
<rect x="359.38" y="69.45" width="4.90" height="15.90" fill="#a8dbf6"/>
<rect x="359.94" y="70.05" width="3.8" height="14.7" fill="#0966b6"/>
<rect x="365.06" y="69.45" width="4.90" height="15.90" fill="#a8dbf6"/>
<rect x="365.61" y="70.05" width="3.8" height="14.7" fill="#0966b6"/>
<rect x="370.63" y="69.45" width="4.90" height="15.90" fill="#a8dbf6"/>
<rect x="371.18" y="70.05" width="3.8" height="14.7" fill="#0966b6"/>
<rect x="376.31" y="69.45" width="4.90" height="15.90" fill="#a8dbf6"/>
<rect x="376.86" y="70.05" width="3.8" height="14.7" fill="#0966b6"/>
<rect x="381.88" y="69.45" width="4.90" height="15.90" fill="#a8dbf6"/>
<rect x="382.43" y="70.05" width="3.8" height="14.7" fill="#0966b6"/>
<rect x="387.55" y="69.45" width="4.90" height="15.90" fill="#a8dbf6"/>
<rect x="388.10" y="70.05" width="3.8" height="14.7" fill="#0966b6"/>
<rect x="393.12" y="69.45" width="4.90" height="15.90" fill="#a8dbf6"/>
<rect x="393.67" y="70.05" width="3.8" height="14.7" fill="#0966b6"/>
<rect x="398.80" y="69.45" width="4.90" height="15.90" fill="#a8dbf6"/>
<rect x="399.35" y="70.05" width="3.8" height="14.7" fill="#0966b6"/>
<rect x="404.37" y="69.45" width="4.90" height="15.90" fill="#a8dbf6"/>
<rect x="404.92" y="70.05" width="3.8" height="14.7" fill="#0966b6"/>
<rect x="421.29" y="69.45" width="4.90" height="15.90" fill="#a8dbf6"/>
<rect x="421.84" y="70.05" width="3.8" height="14.7" fill="#0966b6"/>
<rect x="426.86" y="69.45" width="4.90" height="15.90" fill="#a8dbf6"/>
<rect x="427.41" y="70.05" width="3.8" height="14.7" fill="#0966b6"/>
<rect x="218.87" y="69.45" width="4.90" height="15.90" fill="#ededec"/>
<rect x="219.42" y="70.05" width="3.8" height="14.7" fill="#c8c6c4"/>
<rect x="224.44" y="69.45" width="4.90" height="15.90" fill="#a8dbf6"/>
<rect x="224.99" y="70.05" width="3.8" height="14.7" fill="#0966b6"/>
<circle cx="221.32" cy="75.25" r="0.9" fill="#111"/>
<rect x="443.78" y="69.45" width="4.90" height="15.90" fill="#ededec"/>
<rect x="444.33" y="70.05" width="3.8" height="14.7" fill="#c8c6c4"/>
<rect x="449.35" y="69.45" width="4.90" height="15.90" fill="#cfc4e1"/>
<rect x="449.90" y="70.05" width="3.8" height="14.7" fill="#6a48a2"/>
<rect x="488.75" y="69.45" width="4.90" height="15.90" fill="#ededec"/>
<rect x="489.31" y="70.05" width="3.8" height="14.7" fill="#c8c6c4"/>
<rect x="494.32" y="69.45" width="4.90" height="15.90" fill="#cfc4e1"/>
<rect x="494.88" y="70.05" width="3.8" height="14.7" fill="#6a48a2"/>
<rect x="500.00" y="69.45" width="4.90" height="15.90" fill="#ededec"/>
<rect x="500.55" y="70.05" width="3.8" height="14.7" fill="#c8c6c4"/>
<rect x="505.57" y="69.45" width="4.90" height="15.90" fill="#cfc4e1"/>
<rect x="506.12" y="70.05" width="3.8" height="14.7" fill="#6a48a2"/>
<rect x="61.45" y="87.50" width="4.90" height="15.90" fill="#a8dbf6"/>
<rect x="61.99" y="88.10" width="3.8" height="14.7" fill="#0966b6"/>
<rect x="67.01" y="87.50" width="4.90" height="15.90" fill="#a8dbf6"/>
<rect x="67.56" y="88.10" width="3.8" height="14.7" fill="#0966b6"/>
<rect x="117.67" y="87.50" width="4.90" height="15.90" fill="#a8dbf6"/>
<rect x="118.22" y="88.10" width="3.8" height="14.7" fill="#0966b6"/>
<rect x="123.24" y="87.50" width="4.90" height="15.90" fill="#a8dbf6"/>
<rect x="123.79" y="88.10" width="3.8" height="14.7" fill="#0966b6"/>
<rect x="140.16" y="87.50" width="4.90" height="15.90" fill="#a8dbf6"/>
<rect x="140.71" y="88.10" width="3.8" height="14.7" fill="#0966b6"/>
<rect x="145.73" y="87.50" width="4.90" height="15.90" fill="#a8dbf6"/>
<rect x="146.28" y="88.10" width="3.8" height="14.7" fill="#0966b6"/>
<rect x="196.38" y="87.50" width="4.90" height="15.90" fill="#a8dbf6"/>
<rect x="196.94" y="88.10" width="3.8" height="14.7" fill="#0966b6"/>
<rect x="201.95" y="87.50" width="4.90" height="15.90" fill="#a8dbf6"/>
<rect x="202.50" y="88.10" width="3.8" height="14.7" fill="#0966b6"/>
<rect x="218.87" y="87.50" width="4.90" height="15.90" fill="#a8dbf6"/>
<rect x="219.42" y="88.10" width="3.8" height="14.7" fill="#0966b6"/>
<rect x="224.44" y="87.50" width="4.90" height="15.90" fill="#a8dbf6"/>
<rect x="224.99" y="88.10" width="3.8" height="14.7" fill="#0966b6"/>
<rect x="252.61" y="87.50" width="4.90" height="15.90" fill="#a8dbf6"/>
<rect x="253.16" y="88.10" width="3.8" height="14.7" fill="#0966b6"/>
<rect x="258.18" y="87.50" width="4.90" height="15.90" fill="#a8dbf6"/>
<rect x="258.73" y="88.10" width="3.8" height="14.7" fill="#0966b6"/>
<rect x="275.10" y="87.50" width="4.90" height="15.90" fill="#a8dbf6"/>
<rect x="275.65" y="88.10" width="3.8" height="14.7" fill="#0966b6"/>
<rect x="280.67" y="87.50" width="4.90" height="15.90" fill="#a8dbf6"/>
<rect x="281.22" y="88.10" width="3.8" height="14.7" fill="#0966b6"/>
<rect x="297.59" y="87.50" width="4.90" height="15.90" fill="#a8dbf6"/>
<rect x="298.14" y="88.10" width="3.8" height="14.7" fill="#0966b6"/>
<rect x="303.16" y="87.50" width="4.90" height="15.90" fill="#a8dbf6"/>
<rect x="303.71" y="88.10" width="3.8" height="14.7" fill="#0966b6"/>
<rect x="342.57" y="87.50" width="4.90" height="15.90" fill="#a8dbf6"/>
<rect x="343.12" y="88.10" width="3.8" height="14.7" fill="#0966b6"/>
<rect x="348.14" y="87.50" width="4.90" height="15.90" fill="#a8dbf6"/>
<rect x="348.69" y="88.10" width="3.8" height="14.7" fill="#0966b6"/>
<rect x="353.81" y="87.50" width="4.90" height="15.90" fill="#a8dbf6"/>
<rect x="354.37" y="88.10" width="3.8" height="14.7" fill="#0966b6"/>
<rect x="359.38" y="87.50" width="4.90" height="15.90" fill="#a8dbf6"/>
<rect x="359.94" y="88.10" width="3.8" height="14.7" fill="#0966b6"/>
<rect x="398.80" y="87.50" width="4.90" height="15.90" fill="#a8dbf6"/>
<rect x="399.35" y="88.10" width="3.8" height="14.7" fill="#0966b6"/>
<rect x="404.37" y="87.50" width="4.90" height="15.90" fill="#a8dbf6"/>
<rect x="404.92" y="88.10" width="3.8" height="14.7" fill="#0966b6"/>
<rect x="432.53" y="87.50" width="4.90" height="15.90" fill="#a8dbf6"/>
<rect x="433.08" y="88.10" width="3.8" height="14.7" fill="#0966b6"/>
<rect x="438.10" y="87.50" width="4.90" height="15.90" fill="#a8dbf6"/>
<rect x="438.65" y="88.10" width="3.8" height="14.7" fill="#0966b6"/>
<rect x="410.04" y="87.50" width="4.90" height="15.90" fill="#ededec"/>
<rect x="410.59" y="88.10" width="3.8" height="14.7" fill="#c8c6c4"/>
<rect x="415.61" y="87.50" width="4.90" height="15.90" fill="#e8b3da"/>
<rect x="416.16" y="88.10" width="3.8" height="14.7" fill="#b8128c"/>
<rect x="466.27" y="87.50" width="4.90" height="15.90" fill="#ededec"/>
<rect x="466.82" y="88.10" width="3.8" height="14.7" fill="#c8c6c4"/>
<rect x="471.84" y="87.50" width="4.90" height="15.90" fill="#b2dac2"/>
<rect x="472.39" y="88.10" width="3.8" height="14.7" fill="#0f8a41"/>
<rect x="477.51" y="87.50" width="4.90" height="15.90" fill="#ededec"/>
<rect x="478.06" y="88.10" width="3.8" height="14.7" fill="#c8c6c4"/>
<rect x="483.08" y="87.50" width="4.90" height="15.90" fill="#cfc4e1"/>
<rect x="483.63" y="88.10" width="3.8" height="14.7" fill="#6a48a2"/>
<rect x="50.20" y="105.55" width="4.90" height="15.90" fill="#a8dbf6"/>
<rect x="50.75" y="106.15" width="3.8" height="14.7" fill="#0966b6"/>
<rect x="55.77" y="105.55" width="4.90" height="15.90" fill="#a8dbf6"/>
<rect x="56.32" y="106.15" width="3.8" height="14.7" fill="#0966b6"/>
<rect x="72.69" y="105.55" width="4.90" height="15.90" fill="#a8dbf6"/>
<rect x="73.24" y="106.15" width="3.8" height="14.7" fill="#0966b6"/>
<rect x="78.26" y="105.55" width="4.90" height="15.90" fill="#a8dbf6"/>
<rect x="78.81" y="106.15" width="3.8" height="14.7" fill="#0966b6"/>
<rect x="151.40" y="105.55" width="4.90" height="15.90" fill="#a8dbf6"/>
<rect x="151.95" y="106.15" width="3.8" height="14.7" fill="#0966b6"/>
<rect x="156.97" y="105.55" width="4.90" height="15.90" fill="#a8dbf6"/>
<rect x="157.52" y="106.15" width="3.8" height="14.7" fill="#0966b6"/>
<rect x="173.89" y="105.55" width="4.90" height="15.90" fill="#a8dbf6"/>
<rect x="174.44" y="106.15" width="3.8" height="14.7" fill="#0966b6"/>
<rect x="179.46" y="105.55" width="4.90" height="15.90" fill="#a8dbf6"/>
<rect x="180.01" y="106.15" width="3.8" height="14.7" fill="#0966b6"/>
<rect x="185.14" y="105.55" width="4.90" height="15.90" fill="#a8dbf6"/>
<rect x="185.69" y="106.15" width="3.8" height="14.7" fill="#0966b6"/>
<rect x="190.71" y="105.55" width="4.90" height="15.90" fill="#a8dbf6"/>
<rect x="191.26" y="106.15" width="3.8" height="14.7" fill="#0966b6"/>
<rect x="207.63" y="105.55" width="4.90" height="15.90" fill="#a8dbf6"/>
<rect x="208.18" y="106.15" width="3.8" height="14.7" fill="#0966b6"/>
<rect x="213.20" y="105.55" width="4.90" height="15.90" fill="#a8dbf6"/>
<rect x="213.75" y="106.15" width="3.8" height="14.7" fill="#0966b6"/>
<rect x="297.59" y="105.55" width="4.90" height="15.90" fill="#a8dbf6"/>
<rect x="298.14" y="106.15" width="3.8" height="14.7" fill="#0966b6"/>
<rect x="303.16" y="105.55" width="4.90" height="15.90" fill="#a8dbf6"/>
<rect x="303.71" y="106.15" width="3.8" height="14.7" fill="#0966b6"/>
<rect x="320.08" y="105.55" width="4.90" height="15.90" fill="#a8dbf6"/>
<rect x="320.63" y="106.15" width="3.8" height="14.7" fill="#0966b6"/>
<rect x="325.65" y="105.55" width="4.90" height="15.90" fill="#a8dbf6"/>
<rect x="326.20" y="106.15" width="3.8" height="14.7" fill="#0966b6"/>
<rect x="376.31" y="105.55" width="4.90" height="15.90" fill="#a8dbf6"/>
<rect x="376.86" y="106.15" width="3.8" height="14.7" fill="#0966b6"/>
<rect x="381.88" y="105.55" width="4.90" height="15.90" fill="#a8dbf6"/>
<rect x="382.43" y="106.15" width="3.8" height="14.7" fill="#0966b6"/>
<rect x="387.55" y="105.55" width="4.90" height="15.90" fill="#a8dbf6"/>
<rect x="388.10" y="106.15" width="3.8" height="14.7" fill="#0966b6"/>
<rect x="393.12" y="105.55" width="4.90" height="15.90" fill="#a8dbf6"/>
<rect x="393.67" y="106.15" width="3.8" height="14.7" fill="#0966b6"/>
<rect x="263.86" y="105.55" width="4.90" height="15.90" fill="#ededec"/>
<rect x="264.41" y="106.15" width="3.8" height="14.7" fill="#c8c6c4"/>
<rect x="269.43" y="105.55" width="4.90" height="15.90" fill="#b2dac2"/>
<rect x="269.98" y="106.15" width="3.8" height="14.7" fill="#0f8a41"/>
<rect x="398.80" y="105.55" width="4.90" height="15.90" fill="#ededec"/>
<rect x="399.35" y="106.15" width="3.8" height="14.7" fill="#c8c6c4"/>
<rect x="404.37" y="105.55" width="4.90" height="15.90" fill="#cfc4e1"/>
<rect x="404.92" y="106.15" width="3.8" height="14.7" fill="#6a48a2"/>
<rect x="421.29" y="105.55" width="4.90" height="15.90" fill="#ededec"/>
<rect x="421.84" y="106.15" width="3.8" height="14.7" fill="#c8c6c4"/>
<rect x="426.86" y="105.55" width="4.90" height="15.90" fill="#cfc4e1"/>
<rect x="427.41" y="106.15" width="3.8" height="14.7" fill="#6a48a2"/>
<rect x="106.42" y="123.60" width="4.90" height="15.90" fill="#a8dbf6"/>
<rect x="106.97" y="124.20" width="3.8" height="14.7" fill="#0966b6"/>
<rect x="111.99" y="123.60" width="4.90" height="15.90" fill="#a8dbf6"/>
<rect x="112.54" y="124.20" width="3.8" height="14.7" fill="#0966b6"/>
<rect x="173.89" y="123.60" width="4.90" height="15.90" fill="#a8dbf6"/>
<rect x="174.44" y="124.20" width="3.8" height="14.7" fill="#0966b6"/>
<rect x="179.46" y="123.60" width="4.90" height="15.90" fill="#a8dbf6"/>
<rect x="180.01" y="124.20" width="3.8" height="14.7" fill="#0966b6"/>
<rect x="230.12" y="123.60" width="4.90" height="15.90" fill="#a8dbf6"/>
<rect x="230.67" y="124.20" width="3.8" height="14.7" fill="#0966b6"/>
<rect x="235.69" y="123.60" width="4.90" height="15.90" fill="#a8dbf6"/>
<rect x="236.24" y="124.20" width="3.8" height="14.7" fill="#0966b6"/>
<rect x="410.04" y="123.60" width="4.90" height="15.90" fill="#a8dbf6"/>
<rect x="410.59" y="124.20" width="3.8" height="14.7" fill="#0966b6"/>
<rect x="415.61" y="123.60" width="4.90" height="15.90" fill="#a8dbf6"/>
<rect x="416.16" y="124.20" width="3.8" height="14.7" fill="#0966b6"/>
<rect x="421.29" y="123.60" width="4.90" height="15.90" fill="#a8dbf6"/>
<rect x="421.84" y="124.20" width="3.8" height="14.7" fill="#0966b6"/>
<rect x="426.86" y="123.60" width="4.90" height="15.90" fill="#a8dbf6"/>
<rect x="427.41" y="124.20" width="3.8" height="14.7" fill="#0966b6"/>
<rect x="275.10" y="123.60" width="4.90" height="15.90" fill="#ededec"/>
<rect x="275.65" y="124.20" width="3.8" height="14.7" fill="#c8c6c4"/>
<rect x="280.67" y="123.60" width="4.90" height="15.90" fill="#b2dac2"/>
<rect x="281.22" y="124.20" width="3.8" height="14.7" fill="#0f8a41"/>
<rect x="455.02" y="123.60" width="4.90" height="15.90" fill="#ededec"/>
<rect x="455.57" y="124.20" width="3.8" height="14.7" fill="#c8c6c4"/>
<rect x="460.59" y="123.60" width="4.90" height="15.90" fill="#cfc4e1"/>
<rect x="461.14" y="124.20" width="3.8" height="14.7" fill="#6a48a2"/>
<rect x="50.20" y="141.65" width="4.90" height="15.90" fill="#a8dbf6"/>
<rect x="50.75" y="142.25" width="3.8" height="14.7" fill="#0966b6"/>
<rect x="55.77" y="141.65" width="4.90" height="15.90" fill="#a8dbf6"/>
<rect x="56.32" y="142.25" width="3.8" height="14.7" fill="#0966b6"/>
<rect x="61.45" y="141.65" width="4.90" height="15.90" fill="#a8dbf6"/>
<rect x="61.99" y="142.25" width="3.8" height="14.7" fill="#0966b6"/>
<rect x="67.01" y="141.65" width="4.90" height="15.90" fill="#a8dbf6"/>
<rect x="67.56" y="142.25" width="3.8" height="14.7" fill="#0966b6"/>
<rect x="128.91" y="141.65" width="4.90" height="15.90" fill="#a8dbf6"/>
<rect x="129.46" y="142.25" width="3.8" height="14.7" fill="#0966b6"/>
<rect x="134.48" y="141.65" width="4.90" height="15.90" fill="#a8dbf6"/>
<rect x="135.03" y="142.25" width="3.8" height="14.7" fill="#0966b6"/>
<rect x="342.57" y="141.65" width="4.90" height="15.90" fill="#a8dbf6"/>
<rect x="343.12" y="142.25" width="3.8" height="14.7" fill="#0966b6"/>
<rect x="348.14" y="141.65" width="4.90" height="15.90" fill="#a8dbf6"/>
<rect x="348.69" y="142.25" width="3.8" height="14.7" fill="#0966b6"/>
<rect x="410.04" y="141.65" width="4.90" height="15.90" fill="#ededec"/>
<rect x="410.59" y="142.25" width="3.8" height="14.7" fill="#c8c6c4"/>
<rect x="415.61" y="141.65" width="4.90" height="15.90" fill="#e8b3da"/>
<rect x="416.16" y="142.25" width="3.8" height="14.7" fill="#b8128c"/>
<rect x="500.00" y="141.65" width="4.90" height="15.90" fill="#ededec"/>
<rect x="500.55" y="142.25" width="3.8" height="14.7" fill="#c8c6c4"/>
<rect x="505.57" y="141.65" width="4.90" height="15.90" fill="#cfc4e1"/>
<rect x="506.12" y="142.25" width="3.8" height="14.7" fill="#6a48a2"/>
<rect x="230.12" y="159.70" width="4.90" height="15.90" fill="#a8dbf6"/>
<rect x="230.67" y="160.30" width="3.8" height="14.7" fill="#0966b6"/>
<rect x="235.69" y="159.70" width="4.90" height="15.90" fill="#a8dbf6"/>
<rect x="236.24" y="160.30" width="3.8" height="14.7" fill="#0966b6"/>
<rect x="140.16" y="159.70" width="4.90" height="15.90" fill="#ededec"/>
<rect x="140.71" y="160.30" width="3.8" height="14.7" fill="#c8c6c4"/>
<rect x="145.73" y="159.70" width="4.90" height="15.90" fill="#b2dac2"/>
<rect x="146.28" y="160.30" width="3.8" height="14.7" fill="#0f8a41"/>
<rect x="286.35" y="159.70" width="4.90" height="15.90" fill="#ededec"/>
<rect x="286.90" y="160.30" width="3.8" height="14.7" fill="#c8c6c4"/>
<rect x="291.92" y="159.70" width="4.90" height="15.90" fill="#b2dac2"/>
<rect x="292.47" y="160.30" width="3.8" height="14.7" fill="#0f8a41"/>
<rect x="308.84" y="159.70" width="4.90" height="15.90" fill="#ededec"/>
<rect x="309.39" y="160.30" width="3.8" height="14.7" fill="#c8c6c4"/>
<rect x="314.41" y="159.70" width="4.90" height="15.90" fill="#a8dbf6"/>
<rect x="314.96" y="160.30" width="3.8" height="14.7" fill="#0966b6"/>
<circle cx="311.29" cy="165.50" r="0.9" fill="#111"/>
<rect x="207.63" y="177.75" width="4.90" height="15.90" fill="#a8dbf6"/>
<rect x="208.18" y="178.35" width="3.8" height="14.7" fill="#0966b6"/>
<rect x="213.20" y="177.75" width="4.90" height="15.90" fill="#a8dbf6"/>
<rect x="213.75" y="178.35" width="3.8" height="14.7" fill="#0966b6"/>
<rect x="421.29" y="177.75" width="4.90" height="15.90" fill="#ededec"/>
<rect x="421.84" y="178.35" width="3.8" height="14.7" fill="#c8c6c4"/>
<rect x="426.86" y="177.75" width="4.90" height="15.90" fill="#cfc4e1"/>
<rect x="427.41" y="178.35" width="3.8" height="14.7" fill="#6a48a2"/>
<rect x="50.20" y="196.20" width="4.90" height="15.90" fill="#fad7e9"/>
<rect x="50.75" y="196.80" width="3.8" height="14.7" fill="#ef82bb"/>
<rect x="55.77" y="196.20" width="4.90" height="15.90" fill="#d5dff1"/>
<rect x="56.32" y="196.80" width="3.8" height="14.7" fill="#7b9bd4"/>
<rect x="50.20" y="214.25" width="4.90" height="15.90" fill="#f3c3b2"/>
<rect x="50.75" y="214.85" width="3.8" height="14.7" fill="#d8420f"/>
<rect x="55.77" y="214.25" width="4.90" height="15.90" fill="#f3c3b2"/>
<rect x="56.32" y="214.85" width="3.8" height="14.7" fill="#d8420f"/>
<rect x="61.45" y="196.20" width="4.90" height="15.90" fill="#fad7e9"/>
<rect x="61.99" y="196.80" width="3.8" height="14.7" fill="#ef82bb"/>
<rect x="67.01" y="196.20" width="4.90" height="15.90" fill="#d5dff1"/>
<rect x="67.56" y="196.80" width="3.8" height="14.7" fill="#7b9bd4"/>
<rect x="61.45" y="214.25" width="4.90" height="15.90" fill="#f3c3b2"/>
<rect x="61.99" y="214.85" width="3.8" height="14.7" fill="#d8420f"/>
<rect x="67.01" y="214.25" width="4.90" height="15.90" fill="#f3c3b2"/>
<rect x="67.56" y="214.85" width="3.8" height="14.7" fill="#d8420f"/>
<rect x="72.69" y="196.20" width="4.90" height="15.90" fill="#fad7e9"/>
<rect x="73.24" y="196.80" width="3.8" height="14.7" fill="#ef82bb"/>
<rect x="78.26" y="196.20" width="4.90" height="15.90" fill="#d5dff1"/>
<rect x="78.81" y="196.80" width="3.8" height="14.7" fill="#7b9bd4"/>
<rect x="72.69" y="214.25" width="4.90" height="15.90" fill="#f3c3b2"/>
<rect x="73.24" y="214.85" width="3.8" height="14.7" fill="#d8430f"/>
<rect x="78.26" y="214.25" width="4.90" height="15.90" fill="#f3c3b2"/>
<rect x="78.81" y="214.85" width="3.8" height="14.7" fill="#d8430f"/>
<rect x="83.93" y="196.20" width="4.90" height="15.90" fill="#fad7e9"/>
<rect x="84.48" y="196.80" width="3.8" height="14.7" fill="#ef82bb"/>
<rect x="89.50" y="196.20" width="4.90" height="15.90" fill="#d5dff1"/>
<rect x="90.05" y="196.80" width="3.8" height="14.7" fill="#7b9bd4"/>
<rect x="83.93" y="214.25" width="4.90" height="15.90" fill="#f3c3b2"/>
<rect x="84.48" y="214.85" width="3.8" height="14.7" fill="#d8440f"/>
<rect x="89.50" y="214.25" width="4.90" height="15.90" fill="#f3c3b2"/>
<rect x="90.05" y="214.85" width="3.8" height="14.7" fill="#d8440f"/>
<rect x="95.18" y="196.20" width="4.90" height="15.90" fill="#fad7e9"/>
<rect x="95.73" y="196.80" width="3.8" height="14.7" fill="#ef82bb"/>
<rect x="100.75" y="196.20" width="4.90" height="15.90" fill="#d5dff1"/>
<rect x="101.30" y="196.80" width="3.8" height="14.7" fill="#7b9bd4"/>
<rect x="95.18" y="214.25" width="4.90" height="15.90" fill="#f3c3b2"/>
<rect x="95.73" y="214.85" width="3.8" height="14.7" fill="#d9440f"/>
<rect x="100.75" y="214.25" width="4.90" height="15.90" fill="#f3c3b2"/>
<rect x="101.30" y="214.85" width="3.8" height="14.7" fill="#d9440f"/>
<rect x="106.42" y="196.20" width="4.90" height="15.90" fill="#fad7e9"/>
<rect x="106.97" y="196.80" width="3.8" height="14.7" fill="#ef82bb"/>
<rect x="111.99" y="196.20" width="4.90" height="15.90" fill="#d5dff1"/>
<rect x="112.54" y="196.80" width="3.8" height="14.7" fill="#7b9bd4"/>
<rect x="106.42" y="214.25" width="4.90" height="15.90" fill="#f3c3b2"/>
<rect x="106.97" y="214.85" width="3.8" height="14.7" fill="#d9440f"/>
<rect x="111.99" y="214.25" width="4.90" height="15.90" fill="#f3c3b2"/>
<rect x="112.54" y="214.85" width="3.8" height="14.7" fill="#d9440f"/>
<rect x="117.67" y="196.20" width="4.90" height="15.90" fill="#fad7e9"/>
<rect x="118.22" y="196.80" width="3.8" height="14.7" fill="#ef82bb"/>
<rect x="123.24" y="196.20" width="4.90" height="15.90" fill="#d5dff1"/>
<rect x="123.79" y="196.80" width="3.8" height="14.7" fill="#7b9bd4"/>
<rect x="117.67" y="214.25" width="4.90" height="15.90" fill="#f3c3b3"/>
<rect x="118.22" y="214.85" width="3.8" height="14.7" fill="#d94510"/>
<rect x="123.24" y="214.25" width="4.90" height="15.90" fill="#f3c3b3"/>
<rect x="123.79" y="214.85" width="3.8" height="14.7" fill="#d94510"/>
<rect x="128.91" y="196.20" width="4.90" height="15.90" fill="#fad7e9"/>
<rect x="129.46" y="196.80" width="3.8" height="14.7" fill="#ef82bb"/>
<rect x="134.48" y="196.20" width="4.90" height="15.90" fill="#d5dff1"/>
<rect x="135.03" y="196.80" width="3.8" height="14.7" fill="#7b9bd4"/>
<rect x="128.91" y="214.25" width="4.90" height="15.90" fill="#f3c4b3"/>
<rect x="129.46" y="214.85" width="3.8" height="14.7" fill="#d94610"/>
<rect x="134.48" y="214.25" width="4.90" height="15.90" fill="#f3c4b3"/>
<rect x="135.03" y="214.85" width="3.8" height="14.7" fill="#d94610"/>
<rect x="140.16" y="196.20" width="4.90" height="15.90" fill="#fad7e9"/>
<rect x="140.71" y="196.80" width="3.8" height="14.7" fill="#ef82bb"/>
<rect x="145.73" y="196.20" width="4.90" height="15.90" fill="#d5dff1"/>
<rect x="146.28" y="196.80" width="3.8" height="14.7" fill="#7b9bd4"/>
<rect x="140.16" y="214.25" width="4.90" height="15.90" fill="#f3c4b3"/>
<rect x="140.71" y="214.85" width="3.8" height="14.7" fill="#d94610"/>
<rect x="145.73" y="214.25" width="4.90" height="15.90" fill="#f3c4b3"/>
<rect x="146.28" y="214.85" width="3.8" height="14.7" fill="#d94610"/>
<rect x="151.40" y="196.20" width="4.90" height="15.90" fill="#fad7e9"/>
<rect x="151.95" y="196.80" width="3.8" height="14.7" fill="#ef82bb"/>
<rect x="156.97" y="196.20" width="4.90" height="15.90" fill="#d5dff1"/>
<rect x="157.52" y="196.80" width="3.8" height="14.7" fill="#7b9bd4"/>
<rect x="151.40" y="214.25" width="4.90" height="15.90" fill="#f3c4b3"/>
<rect x="151.95" y="214.85" width="3.8" height="14.7" fill="#da4610"/>
<rect x="156.97" y="214.25" width="4.90" height="15.90" fill="#f3c4b3"/>
<rect x="157.52" y="214.85" width="3.8" height="14.7" fill="#da4610"/>
<rect x="162.65" y="196.20" width="4.90" height="15.90" fill="#fad7e9"/>
<rect x="163.20" y="196.80" width="3.8" height="14.7" fill="#ef82bb"/>
<rect x="168.22" y="196.20" width="4.90" height="15.90" fill="#d5dff1"/>
<rect x="168.77" y="196.80" width="3.8" height="14.7" fill="#7b9bd4"/>
<rect x="162.65" y="214.25" width="4.90" height="15.90" fill="#f3c4b3"/>
<rect x="163.20" y="214.85" width="3.8" height="14.7" fill="#da4710"/>
<rect x="168.22" y="214.25" width="4.90" height="15.90" fill="#f3c4b3"/>
<rect x="168.77" y="214.85" width="3.8" height="14.7" fill="#da4710"/>
<rect x="173.89" y="196.20" width="4.90" height="15.90" fill="#fad7e9"/>
<rect x="174.44" y="196.80" width="3.8" height="14.7" fill="#ef82bb"/>
<rect x="179.46" y="196.20" width="4.90" height="15.90" fill="#d5dff1"/>
<rect x="180.01" y="196.80" width="3.8" height="14.7" fill="#7b9bd4"/>
<rect x="173.89" y="214.25" width="4.90" height="15.90" fill="#f3c4b3"/>
<rect x="174.44" y="214.85" width="3.8" height="14.7" fill="#da4810"/>
<rect x="179.46" y="214.25" width="4.90" height="15.90" fill="#f3c4b3"/>
<rect x="180.01" y="214.85" width="3.8" height="14.7" fill="#da4810"/>
<rect x="185.14" y="196.20" width="4.90" height="15.90" fill="#fad7e9"/>
<rect x="185.69" y="196.80" width="3.8" height="14.7" fill="#ef82bb"/>
<rect x="190.71" y="196.20" width="4.90" height="15.90" fill="#d5dff1"/>
<rect x="191.26" y="196.80" width="3.8" height="14.7" fill="#7b9bd4"/>
<rect x="185.14" y="214.25" width="4.90" height="15.90" fill="#f3c4b3"/>
<rect x="185.69" y="214.85" width="3.8" height="14.7" fill="#da4810"/>
<rect x="190.71" y="214.25" width="4.90" height="15.90" fill="#f3c4b3"/>
<rect x="191.26" y="214.85" width="3.8" height="14.7" fill="#da4810"/>
<rect x="196.38" y="196.20" width="4.90" height="15.90" fill="#fad7e9"/>
<rect x="196.94" y="196.80" width="3.8" height="14.7" fill="#ef82bb"/>
<rect x="201.95" y="196.20" width="4.90" height="15.90" fill="#d5dff1"/>
<rect x="202.50" y="196.80" width="3.8" height="14.7" fill="#7b9bd4"/>
<rect x="196.38" y="214.25" width="4.90" height="15.90" fill="#f3c5b3"/>
<rect x="196.94" y="214.85" width="3.8" height="14.7" fill="#da4910"/>
<rect x="201.95" y="214.25" width="4.90" height="15.90" fill="#f3c5b3"/>
<rect x="202.50" y="214.85" width="3.8" height="14.7" fill="#da4910"/>
<rect x="207.63" y="196.20" width="4.90" height="15.90" fill="#fad7e9"/>
<rect x="208.18" y="196.80" width="3.8" height="14.7" fill="#ef82bb"/>
<rect x="213.20" y="196.20" width="4.90" height="15.90" fill="#d5dff1"/>
<rect x="213.75" y="196.80" width="3.8" height="14.7" fill="#7b9bd4"/>
<rect x="207.63" y="214.25" width="4.90" height="15.90" fill="#f3c5b3"/>
<rect x="208.18" y="214.85" width="3.8" height="14.7" fill="#db4a10"/>
<rect x="213.20" y="214.25" width="4.90" height="15.90" fill="#f3c5b3"/>
<rect x="213.75" y="214.85" width="3.8" height="14.7" fill="#db4a10"/>
<rect x="218.87" y="196.20" width="4.90" height="15.90" fill="#fad7e9"/>
<rect x="219.42" y="196.80" width="3.8" height="14.7" fill="#ef82bb"/>
<rect x="224.44" y="196.20" width="4.90" height="15.90" fill="#d5dff1"/>
<rect x="224.99" y="196.80" width="3.8" height="14.7" fill="#7b9bd4"/>
<rect x="218.87" y="214.25" width="4.90" height="15.90" fill="#f4c5b3"/>
<rect x="219.42" y="214.85" width="3.8" height="14.7" fill="#dc4b10"/>
<rect x="224.44" y="214.25" width="4.90" height="15.90" fill="#f4c5b3"/>
<rect x="224.99" y="214.85" width="3.8" height="14.7" fill="#dc4b10"/>
<rect x="230.12" y="196.20" width="4.90" height="15.90" fill="#fad7e9"/>
<rect x="230.67" y="196.80" width="3.8" height="14.7" fill="#ef82bb"/>
<rect x="235.69" y="196.20" width="4.90" height="15.90" fill="#d5dff1"/>
<rect x="236.24" y="196.80" width="3.8" height="14.7" fill="#7b9bd4"/>
<rect x="230.12" y="214.25" width="4.90" height="15.90" fill="#f4c6b3"/>
<rect x="230.67" y="214.85" width="3.8" height="14.7" fill="#dc4c10"/>
<rect x="235.69" y="214.25" width="4.90" height="15.90" fill="#f4c6b3"/>
<rect x="236.24" y="214.85" width="3.8" height="14.7" fill="#dc4c10"/>
<rect x="241.36" y="196.20" width="4.90" height="15.90" fill="#fad7e9"/>
<rect x="241.91" y="196.80" width="3.8" height="14.7" fill="#ef82bb"/>
<rect x="246.93" y="196.20" width="4.90" height="15.90" fill="#d5dff1"/>
<rect x="247.48" y="196.80" width="3.8" height="14.7" fill="#7b9bd4"/>
<rect x="241.36" y="214.25" width="4.90" height="15.90" fill="#f4c6b3"/>
<rect x="241.91" y="214.85" width="3.8" height="14.7" fill="#dc4d10"/>
<rect x="246.93" y="214.25" width="4.90" height="15.90" fill="#f4c6b3"/>
<rect x="247.48" y="214.85" width="3.8" height="14.7" fill="#dc4d10"/>
<rect x="252.61" y="196.20" width="4.90" height="15.90" fill="#fad7e9"/>
<rect x="253.16" y="196.80" width="3.8" height="14.7" fill="#ef82bb"/>
<rect x="258.18" y="196.20" width="4.90" height="15.90" fill="#d5dff1"/>
<rect x="258.73" y="196.80" width="3.8" height="14.7" fill="#7b9bd4"/>
<rect x="252.61" y="214.25" width="4.90" height="15.90" fill="#f4c6b2"/>
<rect x="253.16" y="214.85" width="3.8" height="14.7" fill="#dd4e0f"/>
<rect x="258.18" y="214.25" width="4.90" height="15.90" fill="#f4c6b2"/>
<rect x="258.73" y="214.85" width="3.8" height="14.7" fill="#dd4e0f"/>
<rect x="263.86" y="196.20" width="4.90" height="15.90" fill="#fad7e9"/>
<rect x="264.41" y="196.80" width="3.8" height="14.7" fill="#ef82bb"/>
<rect x="269.43" y="196.20" width="4.90" height="15.90" fill="#d5dff1"/>
<rect x="269.98" y="196.80" width="3.8" height="14.7" fill="#7b9bd4"/>
<rect x="263.86" y="214.25" width="4.90" height="15.90" fill="#f4c7b2"/>
<rect x="264.41" y="214.85" width="3.8" height="14.7" fill="#de4f0f"/>
<rect x="269.43" y="214.25" width="4.90" height="15.90" fill="#f4c7b2"/>
<rect x="269.98" y="214.85" width="3.8" height="14.7" fill="#de4f0f"/>
<rect x="275.10" y="196.20" width="4.90" height="15.90" fill="#fad7e9"/>
<rect x="275.65" y="196.80" width="3.8" height="14.7" fill="#ef82bb"/>
<rect x="280.67" y="196.20" width="4.90" height="15.90" fill="#d5dff1"/>
<rect x="281.22" y="196.80" width="3.8" height="14.7" fill="#7b9bd4"/>
<rect x="275.10" y="214.25" width="4.90" height="15.90" fill="#f4c7b2"/>
<rect x="275.65" y="214.85" width="3.8" height="14.7" fill="#de500f"/>
<rect x="280.67" y="214.25" width="4.90" height="15.90" fill="#f4c7b2"/>
<rect x="281.22" y="214.85" width="3.8" height="14.7" fill="#de500f"/>
<rect x="286.35" y="196.20" width="4.90" height="15.90" fill="#fad7e9"/>
<rect x="286.90" y="196.80" width="3.8" height="14.7" fill="#ef82bb"/>
<rect x="291.92" y="196.20" width="4.90" height="15.90" fill="#d5dff1"/>
<rect x="292.47" y="196.80" width="3.8" height="14.7" fill="#7b9bd4"/>
<rect x="286.35" y="214.25" width="4.90" height="15.90" fill="#f4c7b2"/>
<rect x="286.90" y="214.85" width="3.8" height="14.7" fill="#de510f"/>
<rect x="291.92" y="214.25" width="4.90" height="15.90" fill="#f4c7b2"/>
<rect x="292.47" y="214.85" width="3.8" height="14.7" fill="#de510f"/>
<rect x="297.59" y="196.20" width="4.90" height="15.90" fill="#fad7e9"/>
<rect x="298.14" y="196.80" width="3.8" height="14.7" fill="#ef82bb"/>
<rect x="303.16" y="196.20" width="4.90" height="15.90" fill="#d5dff1"/>
<rect x="303.71" y="196.80" width="3.8" height="14.7" fill="#7b9bd4"/>
<rect x="297.59" y="214.25" width="4.90" height="15.90" fill="#f5c8b2"/>
<rect x="298.14" y="214.85" width="3.8" height="14.7" fill="#df520f"/>
<rect x="303.16" y="214.25" width="4.90" height="15.90" fill="#f5c8b2"/>
<rect x="303.71" y="214.85" width="3.8" height="14.7" fill="#df520f"/>
<rect x="308.84" y="196.20" width="4.90" height="15.90" fill="#fad7e9"/>
<rect x="309.39" y="196.80" width="3.8" height="14.7" fill="#ef82bb"/>
<rect x="314.41" y="196.20" width="4.90" height="15.90" fill="#d5dff1"/>
<rect x="314.96" y="196.80" width="3.8" height="14.7" fill="#7b9bd4"/>
<rect x="308.84" y="214.25" width="4.90" height="15.90" fill="#f5c8b2"/>
<rect x="309.39" y="214.85" width="3.8" height="14.7" fill="#e0540f"/>
<rect x="314.41" y="214.25" width="4.90" height="15.90" fill="#f5c8b2"/>
<rect x="314.96" y="214.85" width="3.8" height="14.7" fill="#e0540f"/>
<rect x="320.08" y="196.20" width="4.90" height="15.90" fill="#fad7e9"/>
<rect x="320.63" y="196.80" width="3.8" height="14.7" fill="#ef82bb"/>
<rect x="325.65" y="196.20" width="4.90" height="15.90" fill="#d5dff1"/>
<rect x="326.20" y="196.80" width="3.8" height="14.7" fill="#7b9bd4"/>
<rect x="320.08" y="214.25" width="4.90" height="15.90" fill="#f5c9b2"/>
<rect x="320.63" y="214.85" width="3.8" height="14.7" fill="#e1570f"/>
<rect x="325.65" y="214.25" width="4.90" height="15.90" fill="#f5c9b2"/>
<rect x="326.20" y="214.85" width="3.8" height="14.7" fill="#e1570f"/>
<rect x="331.33" y="196.20" width="4.90" height="15.90" fill="#fad7e9"/>
<rect x="331.88" y="196.80" width="3.8" height="14.7" fill="#ef82bb"/>
<rect x="336.90" y="196.20" width="4.90" height="15.90" fill="#d5dff1"/>
<rect x="337.45" y="196.80" width="3.8" height="14.7" fill="#7b9bd4"/>
<rect x="331.33" y="214.25" width="4.90" height="15.90" fill="#f6cab2"/>
<rect x="331.88" y="214.85" width="3.8" height="14.7" fill="#e2590f"/>
<rect x="336.90" y="214.25" width="4.90" height="15.90" fill="#f6cab2"/>
<rect x="337.45" y="214.85" width="3.8" height="14.7" fill="#e2590f"/>
<rect x="342.57" y="196.20" width="4.90" height="15.90" fill="#fad7e9"/>
<rect x="343.12" y="196.80" width="3.8" height="14.7" fill="#ef82bb"/>
<rect x="348.14" y="196.20" width="4.90" height="15.90" fill="#d5dff1"/>
<rect x="348.69" y="196.80" width="3.8" height="14.7" fill="#7b9bd4"/>
<rect x="342.57" y="214.25" width="4.90" height="15.90" fill="#f6cbb2"/>
<rect x="343.12" y="214.85" width="3.8" height="14.7" fill="#e45b0f"/>
<rect x="348.14" y="214.25" width="4.90" height="15.90" fill="#f6cbb2"/>
<rect x="348.69" y="214.85" width="3.8" height="14.7" fill="#e45b0f"/>
<rect x="353.81" y="196.20" width="4.90" height="15.90" fill="#fad7e9"/>
<rect x="354.37" y="196.80" width="3.8" height="14.7" fill="#ef82bb"/>
<rect x="359.38" y="196.20" width="4.90" height="15.90" fill="#d5dff1"/>
<rect x="359.94" y="196.80" width="3.8" height="14.7" fill="#7b9bd4"/>
<rect x="353.81" y="214.25" width="4.90" height="15.90" fill="#f7cbb2"/>
<rect x="354.37" y="214.85" width="3.8" height="14.7" fill="#e55e0f"/>
<rect x="359.38" y="214.25" width="4.90" height="15.90" fill="#f7cbb2"/>
<rect x="359.94" y="214.85" width="3.8" height="14.7" fill="#e55e0f"/>
<rect x="365.06" y="196.20" width="4.90" height="15.90" fill="#fad7e9"/>
<rect x="365.61" y="196.80" width="3.8" height="14.7" fill="#ef82bb"/>
<rect x="370.63" y="196.20" width="4.90" height="15.90" fill="#d5dff1"/>
<rect x="371.18" y="196.80" width="3.8" height="14.7" fill="#7b9bd4"/>
<rect x="365.06" y="214.25" width="4.90" height="15.90" fill="#f7ccb2"/>
<rect x="365.61" y="214.85" width="3.8" height="14.7" fill="#e6600f"/>
<rect x="370.63" y="214.25" width="4.90" height="15.90" fill="#f7ccb2"/>
<rect x="371.18" y="214.85" width="3.8" height="14.7" fill="#e6600f"/>
<rect x="376.31" y="196.20" width="4.90" height="15.90" fill="#fad7e9"/>
<rect x="376.86" y="196.80" width="3.8" height="14.7" fill="#ef82bb"/>
<rect x="381.88" y="196.20" width="4.90" height="15.90" fill="#d5dff1"/>
<rect x="382.43" y="196.80" width="3.8" height="14.7" fill="#7b9bd4"/>
<rect x="376.31" y="214.25" width="4.90" height="15.90" fill="#f8cdb3"/>
<rect x="376.86" y="214.85" width="3.8" height="14.7" fill="#e86311"/>
<rect x="381.88" y="214.25" width="4.90" height="15.90" fill="#f8cdb3"/>
<rect x="382.43" y="214.85" width="3.8" height="14.7" fill="#e86311"/>
<rect x="387.55" y="196.20" width="4.90" height="15.90" fill="#fad7e9"/>
<rect x="388.10" y="196.80" width="3.8" height="14.7" fill="#ef82bb"/>
<rect x="393.12" y="196.20" width="4.90" height="15.90" fill="#d5dff1"/>
<rect x="393.67" y="196.80" width="3.8" height="14.7" fill="#7b9bd4"/>
<rect x="387.55" y="214.25" width="4.90" height="15.90" fill="#f8ceb3"/>
<rect x="388.10" y="214.85" width="3.8" height="14.7" fill="#e96613"/>
<rect x="393.12" y="214.25" width="4.90" height="15.90" fill="#f8ceb3"/>
<rect x="393.67" y="214.85" width="3.8" height="14.7" fill="#e96613"/>
<rect x="398.80" y="196.20" width="4.90" height="15.90" fill="#fad7e9"/>
<rect x="399.35" y="196.80" width="3.8" height="14.7" fill="#ef82bb"/>
<rect x="404.37" y="196.20" width="4.90" height="15.90" fill="#d5dff1"/>
<rect x="404.92" y="196.80" width="3.8" height="14.7" fill="#7b9bd4"/>
<rect x="398.80" y="214.25" width="4.90" height="15.90" fill="#f9cfb4"/>
<rect x="399.35" y="214.85" width="3.8" height="14.7" fill="#eb6a14"/>
<rect x="404.37" y="214.25" width="4.90" height="15.90" fill="#f9cfb4"/>
<rect x="404.92" y="214.85" width="3.8" height="14.7" fill="#eb6a14"/>
<rect x="410.04" y="196.20" width="4.90" height="15.90" fill="#fad7e9"/>
<rect x="410.59" y="196.80" width="3.8" height="14.7" fill="#ef82bb"/>
<rect x="415.61" y="196.20" width="4.90" height="15.90" fill="#d5dff1"/>
<rect x="416.16" y="196.80" width="3.8" height="14.7" fill="#7b9bd4"/>
<rect x="410.04" y="214.25" width="4.90" height="15.90" fill="#f9d0b4"/>
<rect x="410.59" y="214.85" width="3.8" height="14.7" fill="#ec6d16"/>
<rect x="415.61" y="214.25" width="4.90" height="15.90" fill="#f9d0b4"/>
<rect x="416.16" y="214.85" width="3.8" height="14.7" fill="#ec6d16"/>
<rect x="421.29" y="196.20" width="4.90" height="15.90" fill="#fad7e9"/>
<rect x="421.84" y="196.80" width="3.8" height="14.7" fill="#ef82bb"/>
<rect x="426.86" y="196.20" width="4.90" height="15.90" fill="#d5dff1"/>
<rect x="427.41" y="196.80" width="3.8" height="14.7" fill="#7b9bd4"/>
<rect x="421.29" y="214.25" width="4.90" height="15.90" fill="#fad1b5"/>
<rect x="421.84" y="214.85" width="3.8" height="14.7" fill="#ee7018"/>
<rect x="426.86" y="214.25" width="4.90" height="15.90" fill="#fad1b5"/>
<rect x="427.41" y="214.85" width="3.8" height="14.7" fill="#ee7018"/>
<rect x="432.53" y="196.20" width="4.90" height="15.90" fill="#fad7e9"/>
<rect x="433.08" y="196.80" width="3.8" height="14.7" fill="#ef82bb"/>
<rect x="438.10" y="196.20" width="4.90" height="15.90" fill="#d5dff1"/>
<rect x="438.65" y="196.80" width="3.8" height="14.7" fill="#7b9bd4"/>
<rect x="432.53" y="214.25" width="4.90" height="15.90" fill="#fad3b6"/>
<rect x="433.08" y="214.85" width="3.8" height="14.7" fill="#ef751c"/>
<rect x="438.10" y="214.25" width="4.90" height="15.90" fill="#fad3b6"/>
<rect x="438.65" y="214.85" width="3.8" height="14.7" fill="#ef751c"/>
<rect x="443.78" y="196.20" width="4.90" height="15.90" fill="#fad7e9"/>
<rect x="444.33" y="196.80" width="3.8" height="14.7" fill="#ef82bb"/>
<rect x="449.35" y="196.20" width="4.90" height="15.90" fill="#d5dff1"/>
<rect x="449.90" y="196.80" width="3.8" height="14.7" fill="#7b9bd4"/>
<rect x="443.78" y="214.25" width="4.90" height="15.90" fill="#fad4b8"/>
<rect x="444.33" y="214.85" width="3.8" height="14.7" fill="#f07a21"/>
<rect x="449.35" y="214.25" width="4.90" height="15.90" fill="#fad4b8"/>
<rect x="449.90" y="214.85" width="3.8" height="14.7" fill="#f07a21"/>
<rect x="455.02" y="196.20" width="4.90" height="15.90" fill="#fad7e9"/>
<rect x="455.57" y="196.80" width="3.8" height="14.7" fill="#ef82bb"/>
<rect x="460.59" y="196.20" width="4.90" height="15.90" fill="#d5dff1"/>
<rect x="461.14" y="196.80" width="3.8" height="14.7" fill="#7b9bd4"/>
<rect x="455.02" y="214.25" width="4.90" height="15.90" fill="#fbd6ba"/>
<rect x="455.57" y="214.85" width="3.8" height="14.7" fill="#f17e26"/>
<rect x="460.59" y="214.25" width="4.90" height="15.90" fill="#fbd6ba"/>
<rect x="461.14" y="214.85" width="3.8" height="14.7" fill="#f17e26"/>
<rect x="466.27" y="196.20" width="4.90" height="15.90" fill="#fad7e9"/>
<rect x="466.82" y="196.80" width="3.8" height="14.7" fill="#ef82bb"/>
<rect x="471.84" y="196.20" width="4.90" height="15.90" fill="#d5dff1"/>
<rect x="472.39" y="196.80" width="3.8" height="14.7" fill="#7b9bd4"/>
<rect x="466.27" y="214.25" width="4.90" height="15.90" fill="#fbd7bb"/>
<rect x="466.82" y="214.85" width="3.8" height="14.7" fill="#f2832a"/>
<rect x="471.84" y="214.25" width="4.90" height="15.90" fill="#fbd7bb"/>
<rect x="472.39" y="214.85" width="3.8" height="14.7" fill="#f2832a"/>
<rect x="477.51" y="196.20" width="4.90" height="15.90" fill="#fad7e9"/>
<rect x="478.06" y="196.80" width="3.8" height="14.7" fill="#ef82bb"/>
<rect x="483.08" y="196.20" width="4.90" height="15.90" fill="#d5dff1"/>
<rect x="483.63" y="196.80" width="3.8" height="14.7" fill="#7b9bd4"/>
<rect x="477.51" y="214.25" width="4.90" height="15.90" fill="#fbd9bc"/>
<rect x="478.06" y="214.85" width="3.8" height="14.7" fill="#f2872f"/>
<rect x="483.08" y="214.25" width="4.90" height="15.90" fill="#fbd9bc"/>
<rect x="483.63" y="214.85" width="3.8" height="14.7" fill="#f2872f"/>
<rect x="488.75" y="196.20" width="4.90" height="15.90" fill="#fad7e9"/>
<rect x="489.31" y="196.80" width="3.8" height="14.7" fill="#ef82bb"/>
<rect x="494.32" y="196.20" width="4.90" height="15.90" fill="#d5dff1"/>
<rect x="494.88" y="196.80" width="3.8" height="14.7" fill="#7b9bd4"/>
<rect x="488.75" y="214.25" width="4.90" height="15.90" fill="#fbdabe"/>
<rect x="489.31" y="214.85" width="3.8" height="14.7" fill="#f38c33"/>
<rect x="494.32" y="214.25" width="4.90" height="15.90" fill="#fbdabe"/>
<rect x="494.88" y="214.85" width="3.8" height="14.7" fill="#f38c33"/>
<rect x="500.00" y="196.20" width="4.90" height="15.90" fill="#fad7e9"/>
<rect x="500.55" y="196.80" width="3.8" height="14.7" fill="#ef82bb"/>
<rect x="505.57" y="196.20" width="4.90" height="15.90" fill="#d5dff1"/>
<rect x="506.12" y="196.80" width="3.8" height="14.7" fill="#7b9bd4"/>
<rect x="500.00" y="214.25" width="4.90" height="15.90" fill="#fbdbbf"/>
<rect x="500.55" y="214.85" width="3.8" height="14.7" fill="#f39038"/>
<rect x="505.57" y="214.25" width="4.90" height="15.90" fill="#fbdbbf"/>
<rect x="506.12" y="214.85" width="3.8" height="14.7" fill="#f39038"/>
<text transform="translate(58.32,46.6) rotate(-90)" font-size="8.9" fill="#1a1a1a">PD40807</text>
<text transform="translate(69.57,46.6) rotate(-90)" font-size="8.9" fill="#1a1a1a">PD40822</text>
<text transform="translate(80.81,46.6) rotate(-90)" font-size="8.9" fill="#1a1a1a">PD40811</text>
<text transform="translate(92.06,46.6) rotate(-90)" font-size="8.9" fill="#1a1a1a">PD40800</text>
<text transform="translate(103.30,46.6) rotate(-90)" font-size="8.9" fill="#1a1a1a">PD40815</text>
<text transform="translate(114.55,46.6) rotate(-90)" font-size="8.9" fill="#1a1a1a">PD40818</text>
<text transform="translate(125.79,46.6) rotate(-90)" font-size="8.9" fill="#1a1a1a">PD43260</text>
<text transform="translate(137.04,46.6) rotate(-90)" font-size="8.9" fill="#1a1a1a">PD43262</text>
<text transform="translate(148.28,46.6) rotate(-90)" font-size="8.9" fill="#1a1a1a">PD37193</text>
<text transform="translate(159.53,46.6) rotate(-90)" font-size="8.9" fill="#1a1a1a">PD37190</text>
<text transform="translate(170.77,46.6) rotate(-90)" font-size="8.9" fill="#1a1a1a">PD40801</text>
<text transform="translate(182.02,46.6) rotate(-90)" font-size="8.9" fill="#1a1a1a">PD40812</text>
<text transform="translate(193.26,46.6) rotate(-90)" font-size="8.9" fill="#1a1a1a">PD40819</text>
<text transform="translate(204.51,46.6) rotate(-90)" font-size="8.9" fill="#1a1a1a">PD40808</text>
<text transform="translate(215.75,46.6) rotate(-90)" font-size="8.9" fill="#1a1a1a">PD40816</text>
<text transform="translate(227.00,46.6) rotate(-90)" font-size="8.9" fill="#1a1a1a">PD40806</text>
<text transform="translate(238.24,46.6) rotate(-90)" font-size="8.9" fill="#1a1a1a">PD40797</text>
<text transform="translate(249.49,46.6) rotate(-90)" font-size="8.9" fill="#1a1a1a">PD37196</text>
<text transform="translate(260.73,46.6) rotate(-90)" font-size="8.9" fill="#1a1a1a">PD40814</text>
<text transform="translate(271.98,46.6) rotate(-90)" font-size="8.9" fill="#1a1a1a">PD40799</text>
<text transform="translate(283.22,46.6) rotate(-90)" font-size="8.9" fill="#1a1a1a">PD40804</text>
<text transform="translate(294.47,46.6) rotate(-90)" font-size="8.9" fill="#1a1a1a">PD37192</text>
<text transform="translate(305.71,46.6) rotate(-90)" font-size="8.9" fill="#1a1a1a">PD43259</text>
<text transform="translate(316.96,46.6) rotate(-90)" font-size="8.9" fill="#1a1a1a">PD40798</text>
<text transform="translate(328.20,46.6) rotate(-90)" font-size="8.9" fill="#1a1a1a">PD40805</text>
<text transform="translate(339.45,46.6) rotate(-90)" font-size="8.9" fill="#1a1a1a">PD40832</text>
<text transform="translate(350.69,46.6) rotate(-90)" font-size="8.9" fill="#1a1a1a">PD40820</text>
<text transform="translate(361.94,46.6) rotate(-90)" font-size="8.9" fill="#1a1a1a">PD40836</text>
<text transform="translate(373.18,46.6) rotate(-90)" font-size="8.9" fill="#1a1a1a">PD37187</text>
<text transform="translate(384.43,46.6) rotate(-90)" font-size="8.9" fill="#1a1a1a">PD40809</text>
<text transform="translate(395.67,46.6) rotate(-90)" font-size="8.9" fill="#1a1a1a">PD40825</text>
<text transform="translate(406.92,46.6) rotate(-90)" font-size="8.9" fill="#1a1a1a">PD37191</text>
<text transform="translate(418.16,46.6) rotate(-90)" font-size="8.9" fill="#1a1a1a">PD43266</text>
<text transform="translate(429.41,46.6) rotate(-90)" font-size="8.9" fill="#1a1a1a">PD37197</text>
<text transform="translate(440.65,46.6) rotate(-90)" font-size="8.9" fill="#1a1a1a">PD37194</text>
<text transform="translate(451.90,46.6) rotate(-90)" font-size="8.9" fill="#1a1a1a">PD40810</text>
<text transform="translate(463.14,46.6) rotate(-90)" font-size="8.9" fill="#1a1a1a">PD40824</text>
<text transform="translate(474.39,46.6) rotate(-90)" font-size="8.9" fill="#1a1a1a">PD40831</text>
<text transform="translate(485.63,46.6) rotate(-90)" font-size="8.9" fill="#1a1a1a">PD40803</text>
<text transform="translate(496.88,46.6) rotate(-90)" font-size="8.9" fill="#1a1a1a">PD40826</text>
<text transform="translate(508.12,46.6) rotate(-90)" font-size="8.9" fill="#1a1a1a">PD43264</text>
<text transform="translate(45.60,62.80) scale(1.0,1)" text-anchor="end" font-size="9" fill="#1a1a1a">CDKN2B</text>
<text transform="translate(45.80,80.85) scale(1.0,1)" text-anchor="end" font-size="9" fill="#1a1a1a">CDKN2A</text>
<text transform="translate(44.50,98.90) scale(0.92,1)" text-anchor="end" font-size="9" fill="#1a1a1a">IKZF1</text>
<text transform="translate(45.20,116.95) scale(0.93,1)" text-anchor="end" font-size="9" fill="#1a1a1a">PAX5</text>
<text transform="translate(44.90,135.00) scale(0.94,1)" text-anchor="end" font-size="9" fill="#1a1a1a">RB1</text>
<text transform="translate(45.50,153.05) scale(0.915,1)" text-anchor="end" font-size="9" fill="#1a1a1a">ETV6</text>
<text transform="translate(44.90,171.10) scale(0.94,1)" text-anchor="end" font-size="9" fill="#1a1a1a">EBF1</text>
<text transform="translate(44.90,189.15) scale(0.947,1)" text-anchor="end" font-size="9" fill="#1a1a1a">BTG1</text>
<text transform="translate(45.80,208.10) scale(0.933,1)" text-anchor="end" font-size="9" fill="#1a1a1a">Assay</text>
<text transform="translate(46.00,226.15) scale(0.94,1)" text-anchor="end" font-size="9" fill="#1a1a1a">Purity</text>
<text transform="translate(57.20,249.50) scale(1.0,1)" font-size="8.4" font-weight="bold" fill="#111">Assay</text>
<text transform="translate(183.70,249.60) scale(1.015,1)" font-size="8.8" font-weight="bold" fill="#111">Sample purity</text>
<text transform="translate(409.60,249.50) scale(1.01,1)" font-size="8.5" font-weight="bold" fill="#111">Events</text>
<rect x="51" y="259.4" width="12.3" height="12.3" fill="#ef82bb"/>
<text transform="translate(68.70,268.20) scale(0.966,1)" font-size="7.9" fill="#1a1a1a" style="stroke-width:0.1px">MLPA</text>
<rect x="51" y="277.4" width="12.3" height="12.3" fill="#7b9bd4"/>
<text transform="translate(68.40,286.20) scale(1.03,1)" font-size="7.9" fill="#1a1a1a" style="stroke-width:0.1px">WGS</text>
<rect x="122.2" y="259.4" width="12.3" height="12.3" fill="#fcc08e"/>
<text transform="translate(139.80,268.20) scale(1.0,1)" font-size="7.9" fill="#1a1a1a" style="stroke-width:0.1px">0.25</text>
<rect x="178.2" y="259.4" width="12.3" height="12.3" fill="#f58a3a"/>
<text transform="translate(196.00,268.20) scale(1.0,1)" font-size="7.9" fill="#1a1a1a" style="stroke-width:0.1px">0.5</text>
<rect x="226.8" y="259.4" width="12.3" height="12.3" fill="#ec6410"/>
<text transform="translate(244.50,268.20) scale(1.0,1)" font-size="7.9" fill="#1a1a1a" style="stroke-width:0.1px">0.75</text>
<rect x="282.8" y="259.4" width="12.3" height="12.3" fill="#d84516"/>
<text transform="translate(299.80,268.20) scale(1.0,1)" font-size="7.9" fill="#1a1a1a" style="stroke-width:0.1px">1</text>
<rect x="337.6" y="259.4" width="12.3" height="12.3" fill="#0a6cc0"/>
<text transform="translate(355.70,268.20) scale(1.03,1)" font-size="7.9" fill="#1a1a1a" style="stroke-width:0.1px">CLONAL DEL</text>
<rect x="337.6" y="277.4" width="12.3" height="12.3" fill="#6a48a2"/>
<text transform="translate(355.80,286.20) scale(0.96,1)" font-size="7.9" fill="#1a1a1a" style="stroke-width:0.1px">PURITY</text>
<rect x="426.2" y="259.4" width="12.3" height="12.3" fill="#0f8a41"/>
<text transform="translate(443.80,268.20) scale(1.044,1)" font-size="7.9" fill="#1a1a1a" style="stroke-width:0.1px">SUBCLONAL DEL</text>
<rect x="426.2" y="277.4" width="12.3" height="12.3" fill="#b8128c"/>
<text transform="translate(444.10,286.20) scale(0.97,1)" font-size="7.9" fill="#1a1a1a" style="stroke-width:0.1px">PLOIDY</text>
<rect x="0.5" y="0.5" width="519" height="299" fill="none" stroke="#2a2a2a" stroke-width="1"/>
</svg></body></html>
